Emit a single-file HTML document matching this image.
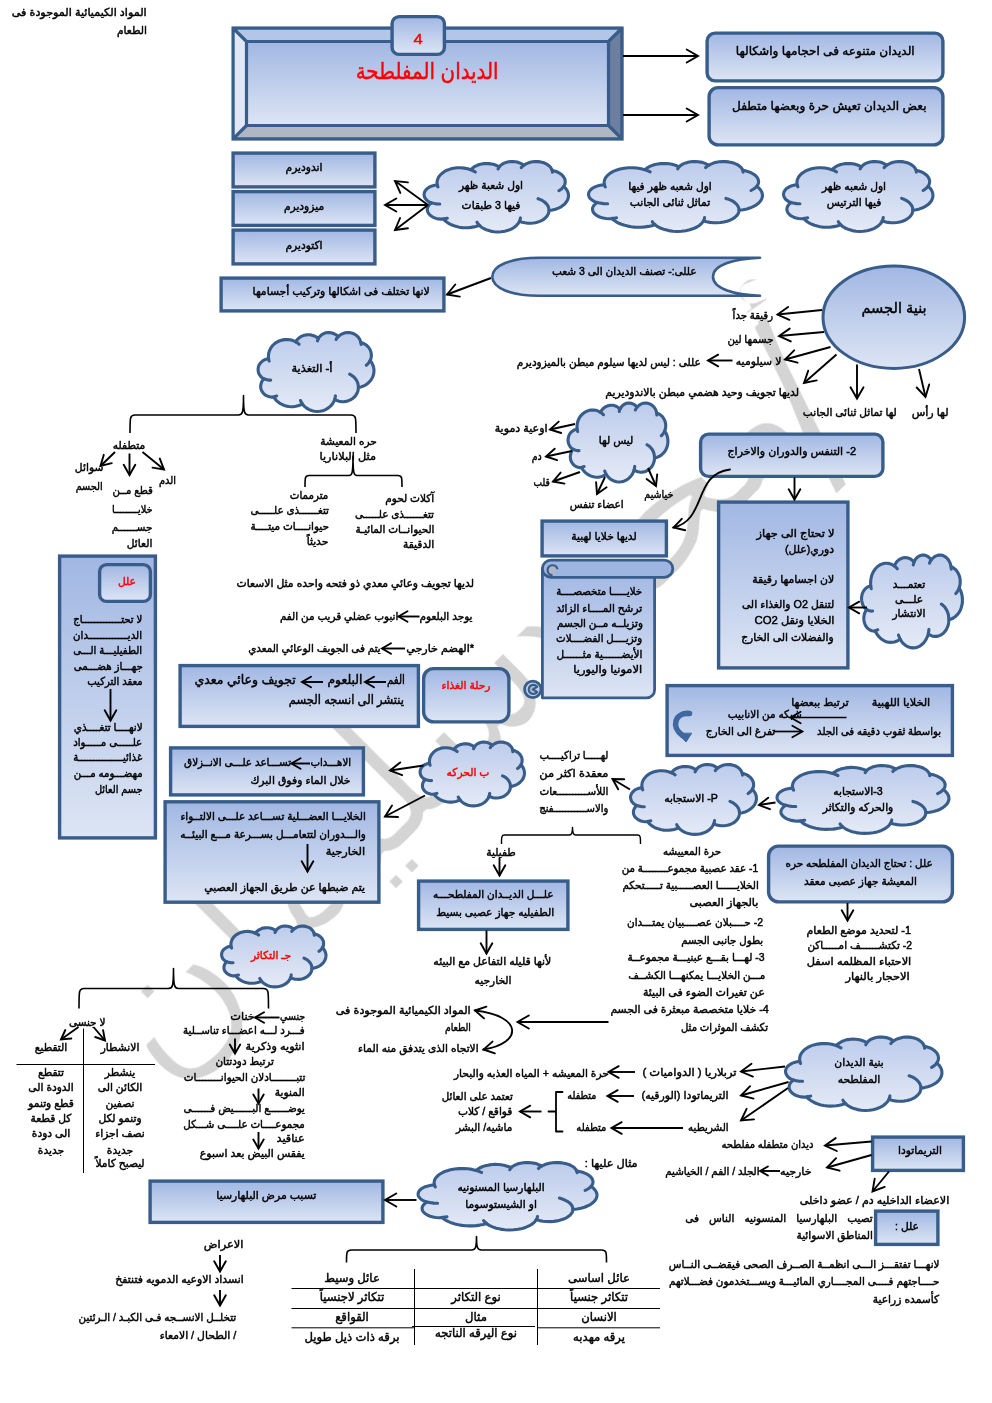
<!DOCTYPE html>
<html lang="ar"><head><meta charset="utf-8"><title>الديدان المفلطحة</title>
<style>
html,body{margin:0;padding:0;background:#fff}
#pg{will-change:transform;position:relative;width:992px;height:1403px;overflow:hidden;background:#fff;font-family:"Liberation Sans","DejaVu Sans",sans-serif;font-weight:normal;color:#000;-webkit-text-stroke:0.45px currentColor}
#pg svg{position:absolute;left:0;top:0}
.t{position:absolute;white-space:nowrap;direction:rtl;unicode-bidi:isolate}
.wm{position:absolute;white-space:nowrap;direction:rtl;color:#d2d2d2;font-weight:normal;transform-origin:0 0}
</style></head><body>
<div id="pg">
<svg width="992" height="1403" viewBox="0 0 992 1403"><defs><filter id="er175" x="-10%" y="-10%" width="120%" height="120%"><feMorphology operator="erode" radius="1.75"/></filter><filter id="er150" x="-10%" y="-10%" width="120%" height="120%"><feMorphology operator="erode" radius="1.5"/></filter><filter id="er300" x="-10%" y="-10%" width="120%" height="120%"><feMorphology operator="erode" radius="3.0"/></filter><filter id="er200" x="-10%" y="-10%" width="120%" height="120%"><feMorphology operator="erode" radius="2.0"/></filter></defs><text x="0" y="0" transform="translate(161.5,1087.5) rotate(-45)" text-anchor="end" direction="rtl" filter="url(#er175)" font-family="'DejaVu Sans',sans-serif" font-weight="normal" font-size="183" fill="#d4d4d4">سليمان</text><text x="0" y="0" transform="translate(545,704) rotate(-45)" text-anchor="end" direction="rtl" filter="url(#er150)" font-family="'DejaVu Sans',sans-serif" font-weight="normal" font-size="165" fill="#d4d4d4">محمد</text><text x="0" y="0" transform="translate(811,440) rotate(-22)" text-anchor="middle" direction="rtl" filter="url(#er300)" font-family="'DejaVu Sans',sans-serif" font-weight="normal" font-size="175" fill="#d4d4d4">أ</text><text x="0" y="0" transform="translate(848.5,457) rotate(-43.4)" text-anchor="middle" direction="rtl" filter="url(#er200)" font-family="'DejaVu Sans',sans-serif" font-weight="normal" font-size="220" fill="#d4d4d4">/</text></svg>
<svg width="992" height="1403" viewBox="0 0 992 1403"><defs><linearGradient id="g1" x1="0" y1="0" x2="0" y2="1"><stop offset="0" stop-color="#a1b7e3"/><stop offset="1" stop-color="#dde5f4"/></linearGradient><linearGradient id="g2" x1="0" y1="0" x2="0" y2="1"><stop offset="0" stop-color="#bdccec"/><stop offset="1" stop-color="#e4eaf6"/></linearGradient></defs>
<polygon points="231.5,26.5 623.5,26.5 608.5,41.5 246.5,41.5" fill="#b3c6e8"/>
<polygon points="231.5,26.5 246.5,41.5 246.5,125.5 231.5,140.5" fill="#e1e7f5"/>
<polygon points="623.5,26.5 623.5,140.5 608.5,125.5 608.5,41.5" fill="#6d7e9f"/>
<polygon points="231.5,140.5 246.5,125.5 608.5,125.5 623.5,140.5" fill="#b1b6c3"/>
<rect x="246.5" y="41.5" width="362" height="84" fill="url(#g1)"/>
<path d="M233.1 28.1H621.9V138.9H233.1Z M246.5 41.5H608.5V125.5H246.5Z M233.1 28.1L246.5 41.5 M621.9 28.1L608.5 41.5 M233.1 138.9L246.5 125.5 M621.9 138.9L608.5 125.5" fill="none" stroke="#385d8a" stroke-width="3.2" stroke-linejoin="miter"/>
<rect x="392.1" y="16.6" width="52.3" height="37.8" rx="7" fill="url(#g1)" stroke="#385d8a" stroke-width="3.4"/>
<rect x="707.1" y="33.1" width="235.8" height="47.8" rx="8" fill="url(#g1)" stroke="#385d8a" stroke-width="3.4"/>
<rect x="709.1" y="87.6" width="233.8" height="57.3" rx="9" fill="url(#g1)" stroke="#385d8a" stroke-width="3.4"/>
<rect x="233.1" y="153.1" width="141.8" height="33.8" rx="0" fill="url(#g1)" stroke="#385d8a" stroke-width="3.4"/>
<rect x="233.1" y="191.6" width="141.8" height="33.8" rx="0" fill="url(#g1)" stroke="#385d8a" stroke-width="3.4"/>
<rect x="233.1" y="230.1" width="141.8" height="33.8" rx="0" fill="url(#g1)" stroke="#385d8a" stroke-width="3.4"/>
<path d="M437.2 184.7L437 182.3L437.4 180L438.3 177.7L439.8 175.5L441.8 173.5L444.2 171.7L447 170.2L450.2 169.1L453.5 168.3L457.1 167.8L460.7 167.7L464.2 168.1L467.7 168.7L470.9 169.8L472.2 168.4L473.7 167.2L475.4 166.2L477.3 165.3L479.4 164.5L481.6 164L484 163.6L486.3 163.5L488.7 163.6L491 163.9L493.2 164.3L495.4 165L497.4 165.9L499.2 166.9L500.2 165.7L501.6 164.6L503.1 163.7L504.8 162.9L506.7 162.2L508.7 161.8L510.8 161.6L512.9 161.6L515 161.7L517.1 162.1L519 162.7L520.8 163.4L522.4 164.3L523.8 165.4L525.6 164.1L527.8 163.1L530.1 162.3L532.6 161.8L535.2 161.6L537.8 161.6L540.4 161.9L542.8 162.5L545.1 163.3L547.2 164.4L548.9 165.7L550.4 167.1L551.4 168.7L552.1 170.4L554.2 170.9L556.1 171.5L558 172.3L559.6 173.2L561.1 174.2L562.4 175.4L563.5 176.7L564.3 178L564.9 179.4L565.2 180.8L565.2 182.3L565 183.7L564.5 185.1L563.8 186.5L565.7 188.4L567.1 190.4L568 192.5L568.5 194.8L568.4 197L567.9 199.2L566.8 201.3L565.3 203.3L563.4 205.1L561.1 206.8L558.4 208.1L555.5 209.2L552.4 210L549.1 210.5L548.8 212.5L548.1 214.3L547 216.1L545.5 217.8L543.7 219.3L541.5 220.6L539.1 221.6L536.4 222.5L533.6 223L530.7 223.2L527.8 223.2L524.9 222.8L522.1 222.2L519.5 221.3L518.2 223.5L516.3 225.6L514 227.5L511.3 229.1L508.2 230.3L504.8 231.2L501.3 231.8L497.6 232L494 231.7L490.5 231.1L487.2 230.1L484.1 228.8L481.5 227.2L479.2 225.3L476.6 226.2L473.9 226.9L471 227.4L468.1 227.7L465.2 227.7L462.3 227.6L459.4 227.2L456.6 226.6L454 225.8L451.4 224.8L449.1 223.6L447 222.2L445.1 220.7L443.5 219.1L441 219.1L438.5 218.9L436.1 218.4L433.9 217.6L431.9 216.5L430.2 215.3L428.9 213.9L427.9 212.3L427.4 210.7L427.3 209L427.7 207.3L428.5 205.7L429.7 204.3L431.2 202.9L429.1 201.9L427.3 200.7L425.8 199.2L424.8 197.7L424.2 196L424.1 194.2L424.4 192.5L425.1 190.9L426.4 189.3L427.9 188L429.9 186.8L432.1 185.9L434.5 185.3L437.1 184.9Z" fill="url(#g2)" stroke="#385d8a" stroke-width="3.1" stroke-linejoin="round"/><path d="M439.8 204L438.7 204L437.6 204L436.5 203.9L435.5 203.7L434.4 203.5L433.4 203.3L432.3 203L431.4 202.7M447.3 218.2L446.8 218.3L446.4 218.4L445.9 218.5L445.5 218.6L445 218.6L444.5 218.7L444.1 218.7L443.6 218.8M479.2 225L478.9 224.7L478.5 224.3L478.2 224L478 223.6L477.7 223.3L477.4 222.9L477.2 222.5L477 222.2M520.4 217.9L520.4 218.3L520.3 218.7L520.2 219.1L520.1 219.5L520 219.9L519.8 220.3L519.7 220.7L519.5 221M538.1 198.7L540.5 199.6L542.6 200.7L544.5 202L546.1 203.5L547.4 205.1L548.3 206.8L548.8 208.5L549 210.3M563.7 186.3L563.3 186.9L562.8 187.5L562.3 188.1L561.7 188.7L561.1 189.2L560.4 189.7L559.7 190.2L558.9 190.7M552.1 170.1L552.2 170.4L552.3 170.7L552.3 170.9L552.3 171.2L552.4 171.4L552.4 171.7L552.4 171.9L552.4 172.2M521.3 167.7L521.5 167.4L521.8 167L522.1 166.7L522.4 166.4L522.7 166L523 165.7L523.4 165.4L523.7 165.1M498.1 169L498.2 168.7L498.3 168.4L498.4 168.1L498.6 167.8L498.7 167.6L498.9 167.3L499.1 167L499.3 166.7M470.9 169.8L471.5 170L472.1 170.3L472.6 170.5L473.2 170.8L473.7 171.1L474.2 171.4L474.8 171.7L475.3 172M437.9 187L437.8 186.7L437.7 186.5L437.6 186.2L437.5 185.9L437.4 185.6L437.3 185.3L437.2 185L437.2 184.7" fill="none" stroke="#385d8a" stroke-width="3.1" stroke-linecap="round" stroke-linejoin="round"/>
<path d="M604.4 184.6L604.1 182.2L604.6 179.8L605.7 177.5L607.5 175.4L609.9 173.4L612.8 171.7L616.2 170.2L620 169L624.1 168.2L628.3 167.8L632.7 167.7L637 168L641.1 168.7L645 169.7L646.5 168.4L648.3 167.2L650.4 166.1L652.7 165.2L655.2 164.5L657.9 164L660.7 163.6L663.5 163.5L666.4 163.6L669.2 163.8L671.9 164.3L674.5 165L676.8 165.8L679 166.9L680.3 165.7L681.9 164.6L683.7 163.6L685.8 162.9L688.1 162.2L690.5 161.8L693 161.6L695.6 161.6L698.1 161.7L700.6 162.1L702.9 162.6L705 163.4L707 164.3L708.7 165.3L710.9 164.1L713.4 163.1L716.3 162.3L719.3 161.8L722.4 161.6L725.5 161.6L728.6 161.9L731.6 162.5L734.4 163.3L736.8 164.4L739 165.7L740.7 167.1L742 168.7L742.8 170.3L745.3 170.8L747.6 171.4L749.8 172.2L751.8 173.1L753.6 174.2L755.2 175.3L756.5 176.6L757.5 177.9L758.1 179.3L758.5 180.7L758.6 182.1L758.3 183.6L757.7 185L756.9 186.3L759.1 188.2L760.8 190.2L761.9 192.3L762.4 194.5L762.4 196.7L761.7 198.9L760.5 201L758.7 203L756.4 204.8L753.6 206.4L750.4 207.8L746.9 208.9L743.1 209.7L739.1 210.2L738.8 212.1L738 214L736.7 215.7L734.9 217.4L732.6 218.9L730 220.2L727 221.2L723.8 222L720.5 222.5L717 222.8L713.4 222.7L710 222.4L706.6 221.8L703.5 220.9L701.9 223.1L699.7 225.2L696.9 227L693.6 228.6L689.8 229.8L685.8 230.7L681.5 231.3L677.2 231.5L672.8 231.2L668.6 230.6L664.6 229.6L660.9 228.3L657.7 226.7L655 224.8L651.8 225.7L648.6 226.4L645.1 226.9L641.6 227.2L638.1 227.3L634.6 227.1L631.1 226.7L627.8 226.1L624.6 225.3L621.5 224.3L618.7 223.2L616.2 221.8L614 220.3L612 218.7L609 218.7L606 218.5L603.1 218L600.4 217.2L598 216.2L595.9 214.9L594.3 213.5L593.2 212L592.6 210.3L592.5 208.7L592.9 207L593.9 205.4L595.3 204L597.2 202.6L594.6 201.6L592.5 200.4L590.7 199L589.4 197.4L588.7 195.7L588.5 194L588.9 192.3L589.9 190.7L591.3 189.1L593.2 187.8L595.6 186.6L598.2 185.7L601.2 185.1L604.2 184.8Z" fill="url(#g2)" stroke="#385d8a" stroke-width="3.1" stroke-linejoin="round"/><path d="M607.6 203.7L606.2 203.7L604.9 203.7L603.6 203.6L602.3 203.4L601 203.3L599.8 203L598.5 202.7L597.4 202.4M616.5 217.8L616 217.9L615.5 218L614.9 218.1L614.4 218.2L613.8 218.2L613.2 218.3L612.7 218.3L612.1 218.4M655 224.5L654.6 224.2L654.2 223.9L653.8 223.5L653.5 223.2L653.1 222.8L652.8 222.5L652.5 222.1L652.3 221.7M704.6 217.5L704.5 217.9L704.5 218.3L704.4 218.7L704.2 219.1L704.1 219.5L703.9 219.9L703.7 220.2L703.5 220.6M725.9 198.4L728.8 199.3L731.3 200.4L733.6 201.7L735.5 203.2L737 204.8L738.1 206.4L738.8 208.2L739 210M756.8 186.1L756.3 186.8L755.7 187.4L755 187.9L754.3 188.5L753.6 189L752.7 189.5L751.9 190L751 190.5M742.8 170.1L742.9 170.3L743 170.6L743 170.9L743.1 171.1L743.1 171.4L743.1 171.6L743.1 171.9L743.1 172.1M705.6 167.7L705.9 167.4L706.2 167L706.6 166.7L706.9 166.3L707.3 166L707.7 165.7L708.2 165.4L708.6 165.1M677.7 168.9L677.8 168.7L678 168.4L678.1 168.1L678.3 167.8L678.5 167.5L678.7 167.2L678.9 167L679.2 166.7M645 169.7L645.7 169.9L646.4 170.2L647.1 170.4L647.7 170.7L648.4 171L649 171.3L649.6 171.6L650.2 171.9M605.3 186.9L605.1 186.6L605 186.3L604.9 186L604.7 185.7L604.6 185.4L604.5 185.1L604.4 184.8L604.4 184.6" fill="none" stroke="#385d8a" stroke-width="3.1" stroke-linecap="round" stroke-linejoin="round"/>
<path d="M797.1 184.6L796.9 182.2L797.3 179.8L798.3 177.5L799.8 175.4L801.9 173.4L804.4 171.7L807.3 170.2L810.6 169L814.1 168.2L817.7 167.8L821.4 167.7L825.1 168L828.7 168.7L832.1 169.7L833.3 168.4L834.9 167.2L836.7 166.1L838.7 165.2L840.8 164.5L843.1 164L845.5 163.6L848 163.5L850.4 163.6L852.8 163.8L855.1 164.3L857.3 165L859.4 165.8L861.3 166.9L862.4 165.7L863.7 164.6L865.3 163.6L867.1 162.9L869.1 162.2L871.2 161.8L873.3 161.6L875.5 161.6L877.7 161.7L879.8 162.1L881.8 162.6L883.6 163.4L885.3 164.3L886.7 165.3L888.6 164.1L890.8 163.1L893.3 162.3L895.8 161.8L898.5 161.6L901.2 161.6L903.9 161.9L906.4 162.5L908.8 163.3L910.9 164.4L912.8 165.7L914.3 167.1L915.4 168.7L916.1 170.3L918.2 170.8L920.2 171.4L922.1 172.2L923.8 173.1L925.4 174.2L926.7 175.3L927.8 176.6L928.7 177.9L929.3 179.3L929.6 180.7L929.6 182.1L929.4 183.6L928.9 185L928.1 186.3L930.1 188.2L931.5 190.2L932.5 192.3L932.9 194.5L932.9 196.7L932.3 198.9L931.3 201L929.7 203L927.7 204.8L925.3 206.4L922.6 207.8L919.5 208.9L916.3 209.7L912.9 210.2L912.6 212.1L911.9 214L910.8 215.7L909.2 217.4L907.3 218.9L905.1 220.2L902.5 221.2L899.8 222L896.9 222.5L893.9 222.8L890.8 222.7L887.9 222.4L885 221.8L882.3 220.9L881 223.1L879 225.2L876.6 227L873.8 228.6L870.6 229.8L867.1 230.7L863.4 231.3L859.7 231.5L855.9 231.2L852.3 230.6L848.9 229.6L845.7 228.3L842.9 226.7L840.6 224.8L837.9 225.7L835.1 226.4L832.2 226.9L829.2 227.2L826.1 227.3L823.1 227.1L820.1 226.7L817.3 226.1L814.5 225.3L811.9 224.3L809.5 223.2L807.3 221.8L805.4 220.3L803.7 218.7L801.1 218.7L798.5 218.5L796 218L793.7 217.2L791.6 216.2L789.9 214.9L788.5 213.5L787.5 212L787 210.3L786.9 208.7L787.3 207L788.1 205.4L789.3 204L791 202.6L788.8 201.6L786.9 200.4L785.4 199L784.3 197.4L783.7 195.7L783.5 194L783.9 192.3L784.7 190.7L785.9 189.1L787.6 187.8L789.6 186.6L791.9 185.7L794.4 185.1L797 184.8Z" fill="url(#g2)" stroke="#385d8a" stroke-width="3.1" stroke-linejoin="round"/><path d="M799.9 203.7L798.7 203.7L797.6 203.7L796.5 203.6L795.3 203.4L794.2 203.3L793.2 203L792.1 202.7L791.1 202.4M807.6 217.8L807.1 217.9L806.7 218L806.2 218.1L805.7 218.2L805.2 218.2L804.8 218.3L804.3 218.3L803.8 218.4M840.6 224.5L840.3 224.2L839.9 223.9L839.6 223.5L839.3 223.2L839 222.8L838.8 222.5L838.5 222.1L838.3 221.7M883.3 217.5L883.2 217.9L883.1 218.3L883 218.7L882.9 219.1L882.8 219.5L882.7 219.9L882.5 220.2L882.3 220.6M901.6 198.4L904 199.3L906.2 200.4L908.2 201.7L909.8 203.2L911.1 204.8L912.1 206.4L912.6 208.2L912.8 210M928.1 186.1L927.6 186.8L927.1 187.4L926.6 187.9L926 188.5L925.3 189L924.6 189.5L923.9 190L923.1 190.5M916.1 170.1L916.1 170.3L916.2 170.6L916.2 170.9L916.3 171.1L916.3 171.4L916.3 171.6L916.3 171.9L916.3 172.1M884.1 167.7L884.4 167.4L884.7 167L885 166.7L885.3 166.3L885.6 166L885.9 165.7L886.3 165.4L886.7 165.1M860.2 168.9L860.3 168.7L860.4 168.4L860.5 168.1L860.7 167.8L860.8 167.5L861 167.2L861.2 167L861.4 166.7M832 169.7L832.6 169.9L833.2 170.2L833.8 170.4L834.4 170.7L834.9 171L835.5 171.3L836 171.6L836.5 171.9M797.9 186.9L797.8 186.6L797.7 186.3L797.6 186L797.5 185.7L797.4 185.4L797.3 185.1L797.2 184.8L797.1 184.6" fill="none" stroke="#385d8a" stroke-width="3.1" stroke-linecap="round" stroke-linejoin="round"/>
<path d="M539 257.8H760C735 258.8 713 264.5 713 276.8C713 289 735 294.7 760 295.7H539C511 295.7 492.3 288 492.3 276.8C492.3 265.5 511 257.8 539 257.8Z" fill="url(#g1)" stroke="#385d8a" stroke-width="2.6" stroke-linejoin="round"/>
<rect x="221.1" y="278.1" width="222.8" height="32.8" rx="0" fill="url(#g1)" stroke="#385d8a" stroke-width="3.4"/>
<ellipse cx="893.8" cy="317.2" rx="70.8" ry="51.2" fill="url(#g1)" stroke="#385d8a" stroke-width="3"/>
<path d="M268.6 358.5L268.4 355.8L268.7 353.2L269.5 350.6L270.7 348.2L272.3 345.9L274.2 344L276.5 342.3L279 341L281.7 340.1L284.6 339.6L287.4 339.5L290.3 339.8L293.1 340.6L295.7 341.8L296.7 340.3L297.9 338.9L299.3 337.7L300.8 336.7L302.5 335.9L304.3 335.3L306.1 334.9L308 334.7L309.9 334.8L311.8 335.1L313.6 335.7L315.3 336.4L316.9 337.4L318.3 338.5L319.2 337.2L320.3 336L321.5 334.9L322.9 334L324.4 333.3L326 332.8L327.7 332.6L329.4 332.6L331.1 332.7L332.7 333.2L334.2 333.8L335.7 334.6L337 335.6L338.1 336.8L339.6 335.4L341.3 334.3L343.2 333.4L345.2 332.8L347.2 332.6L349.3 332.6L351.4 333L353.4 333.6L355.2 334.6L356.9 335.8L358.3 337.2L359.4 338.8L360.3 340.6L360.8 342.5L362.5 343L364.1 343.7L365.5 344.6L366.9 345.6L368.1 346.8L369.1 348.1L370 349.5L370.6 351L371.1 352.6L371.3 354.2L371.4 355.8L371.2 357.4L370.8 359L370.2 360.5L371.7 362.6L372.8 364.9L373.6 367.3L374 369.8L373.9 372.3L373.5 374.7L372.6 377.1L371.4 379.4L369.9 381.4L368 383.2L365.9 384.8L363.6 386L361 386.9L358.4 387.4L358.2 389.6L357.7 391.7L356.8 393.7L355.6 395.6L354.1 397.3L352.3 398.7L350.4 399.9L348.2 400.8L346 401.4L343.6 401.7L341.3 401.6L339 401.2L336.8 400.5L334.7 399.5L333.6 402L332.1 404.4L330.2 406.4L328 408.2L325.6 409.6L322.9 410.7L320 411.3L317.1 411.5L314.2 411.2L311.4 410.5L308.7 409.4L306.3 407.9L304.1 406.1L302.3 404L300.2 405L298 405.8L295.8 406.3L293.4 406.7L291.1 406.7L288.7 406.5L286.4 406.1L284.2 405.4L282.1 404.5L280 403.4L278.2 402.1L276.5 400.6L275 398.9L273.7 397L271.7 397.1L269.7 396.8L267.7 396.2L265.9 395.4L264.3 394.2L263 392.8L261.9 391.2L261.1 389.4L260.7 387.6L260.7 385.7L261 383.9L261.6 382.1L262.5 380.4L263.8 378.9L262.1 377.8L260.7 376.4L259.5 374.8L258.6 373L258.2 371.1L258.1 369.2L258.3 367.3L258.9 365.4L259.9 363.7L261.2 362.2L262.7 360.9L264.5 359.8L266.4 359.1L268.5 358.8Z" fill="url(#g2)" stroke="#385d8a" stroke-width="3.1" stroke-linejoin="round"/><path d="M270.7 380.1L269.8 380.1L269 380.1L268.1 380L267.2 379.8L266.3 379.6L265.5 379.3L264.7 379L263.9 378.6M276.7 396L276.3 396.1L276 396.2L275.6 396.4L275.2 396.4L274.9 396.5L274.5 396.6L274.1 396.7L273.7 396.7M302.3 403.7L302 403.3L301.8 402.9L301.5 402.5L301.3 402.1L301.1 401.7L300.9 401.3L300.7 400.9L300.5 400.5M335.4 395.7L335.4 396.2L335.3 396.6L335.2 397.1L335.1 397.5L335 397.9L334.9 398.4L334.8 398.8L334.7 399.2M349.6 374.2L351.5 375.2L353.2 376.4L354.7 377.9L356 379.5L357 381.3L357.8 383.2L358.2 385.2L358.3 387.2M370.2 360.3L369.8 361L369.4 361.7L369 362.3L368.5 363L368 363.6L367.5 364.1L366.9 364.7L366.3 365.2M360.9 342.2L360.9 342.5L361 342.8L361 343L361 343.3L361 343.6L361.1 343.9L361.1 344.2L361.1 344.5M336.1 339.5L336.3 339.1L336.5 338.7L336.7 338.3L337 338L337.2 337.6L337.5 337.2L337.8 336.9L338.1 336.6M317.5 340.9L317.6 340.6L317.7 340.2L317.8 339.9L317.9 339.6L318 339.3L318.1 339L318.3 338.7L318.4 338.4M295.7 341.8L296.1 342L296.6 342.3L297 342.6L297.5 342.9L297.9 343.2L298.3 343.5L298.7 343.9L299.1 344.2M269.2 361.1L269.1 360.8L269 360.5L268.9 360.1L268.8 359.8L268.8 359.5L268.7 359.2L268.6 358.8L268.6 358.5" fill="none" stroke="#385d8a" stroke-width="3.1" stroke-linecap="round" stroke-linejoin="round"/>
<rect x="59.6" y="556.1" width="95.8" height="281.8" rx="0" fill="url(#g1)" stroke="#385d8a" stroke-width="3.4"/>
<rect x="99.6" y="564.6" width="50.8" height="36.8" rx="7" fill="url(#g1)" stroke="#385d8a" stroke-width="3.4"/>
<rect x="180.1" y="665.6" width="238.3" height="60.8" rx="0" fill="url(#g1)" stroke="#385d8a" stroke-width="3.4"/>
<rect x="423.6" y="668.6" width="85.3" height="53.3" rx="10" fill="url(#g1)" stroke="#385d8a" stroke-width="3.4"/>
<path d="M577.1 429L577 426.3L577.3 423.7L577.9 421.1L578.9 418.7L580.3 416.4L582 414.5L583.9 412.8L586.1 411.5L588.5 410.6L590.9 410.1L593.4 410L595.9 410.3L598.2 411.1L600.5 412.3L601.3 410.8L602.4 409.4L603.6 408.2L604.9 407.2L606.4 406.4L607.9 405.8L609.5 405.4L611.1 405.2L612.8 405.3L614.4 405.6L615.9 406.2L617.4 406.9L618.8 407.9L620 409L620.8 407.7L621.7 406.5L622.7 405.4L623.9 404.5L625.3 403.8L626.6 403.3L628.1 403.1L629.5 403.1L631 403.2L632.4 403.7L633.7 404.3L635 405.1L636.1 406.1L637 407.3L638.3 405.9L639.8 404.8L641.4 403.9L643.1 403.3L644.9 403.1L646.7 403.1L648.5 403.5L650.2 404.1L651.8 405.1L653.2 406.3L654.5 407.7L655.5 409.3L656.2 411.1L656.7 413L658.1 413.5L659.4 414.2L660.7 415.1L661.9 416.1L662.9 417.3L663.8 418.6L664.5 420L665.1 421.5L665.5 423.1L665.7 424.7L665.7 426.3L665.6 427.9L665.2 429.5L664.7 431L666 433.1L667 435.4L667.6 437.8L667.9 440.3L667.9 442.8L667.5 445.2L666.8 447.6L665.8 449.9L664.5 451.9L662.8 453.7L661 455.3L659 456.5L656.8 457.4L654.5 457.9L654.4 460.1L653.9 462.2L653.1 464.2L652.1 466.1L650.8 467.8L649.3 469.2L647.6 470.4L645.8 471.3L643.8 471.9L641.8 472.2L639.8 472.1L637.8 471.7L635.9 471L634.1 470L633.2 472.5L631.9 474.9L630.3 476.9L628.4 478.7L626.2 480.1L623.9 481.2L621.5 481.8L619 482L616.5 481.7L614 481L611.7 479.9L609.6 478.4L607.8 476.6L606.2 474.5L604.4 475.5L602.5 476.3L600.6 476.8L598.6 477.2L596.5 477.2L594.5 477L592.5 476.6L590.6 475.9L588.7 475L587 473.9L585.4 472.6L583.9 471.1L582.6 469.4L581.5 467.5L579.8 467.6L578.1 467.3L576.4 466.7L574.8 465.9L573.5 464.7L572.3 463.3L571.4 461.7L570.7 459.9L570.4 458.1L570.3 456.2L570.6 454.4L571.1 452.6L571.9 450.9L573 449.4L571.5 448.3L570.3 446.9L569.3 445.3L568.6 443.5L568.1 441.6L568 439.7L568.3 437.8L568.8 435.9L569.6 434.2L570.7 432.7L572.1 431.4L573.6 430.3L575.3 429.6L577.1 429.3Z" fill="url(#g2)" stroke="#385d8a" stroke-width="3.1" stroke-linejoin="round"/><path d="M579 450.6L578.2 450.6L577.4 450.6L576.7 450.5L575.9 450.3L575.2 450.1L574.5 449.8L573.8 449.5L573.1 449.1M584.1 466.5L583.8 466.6L583.5 466.7L583.2 466.9L582.9 466.9L582.6 467L582.2 467.1L581.9 467.2L581.6 467.2M606.2 474.2L606 473.8L605.8 473.4L605.5 473L605.3 472.6L605.2 472.2L605 471.8L604.8 471.4L604.7 471M634.7 466.2L634.7 466.7L634.6 467.1L634.6 467.6L634.5 468L634.4 468.4L634.3 468.9L634.2 469.3L634.1 469.7M647 444.7L648.6 445.7L650.1 446.9L651.4 448.4L652.5 450L653.4 451.8L654 453.7L654.4 455.7L654.5 457.7M664.7 430.8L664.4 431.5L664.1 432.2L663.7 432.8L663.3 433.5L662.8 434.1L662.4 434.6L661.9 435.2L661.3 435.7M656.7 412.7L656.7 413L656.7 413.3L656.8 413.5L656.8 413.8L656.8 414.1L656.8 414.4L656.8 414.7L656.8 415M635.3 410L635.5 409.6L635.7 409.2L635.9 408.8L636.1 408.5L636.3 408.1L636.5 407.7L636.8 407.4L637 407.1M619.3 411.4L619.3 411.1L619.4 410.7L619.5 410.4L619.6 410.1L619.7 409.8L619.8 409.5L620 409.2L620.1 408.9M600.5 412.3L600.9 412.5L601.3 412.8L601.7 413.1L602 413.4L602.4 413.7L602.8 414L603.1 414.4L603.5 414.7M577.7 431.6L577.6 431.3L577.5 431L577.4 430.6L577.4 430.3L577.3 430L577.2 429.7L577.2 429.3L577.1 429" fill="none" stroke="#385d8a" stroke-width="3.1" stroke-linecap="round" stroke-linejoin="round"/>
<rect x="700.6" y="434.1" width="182.3" height="42.3" rx="8" fill="url(#g1)" stroke="#385d8a" stroke-width="3.4"/>
<rect x="718.6" y="502.1" width="129.3" height="165.8" rx="0" fill="url(#g1)" stroke="#385d8a" stroke-width="3.4"/>
<path d="M870.7 585.6L870.6 582.5L870.9 579.3L871.5 576.3L872.5 573.4L873.9 570.8L875.6 568.5L877.6 566.5L879.8 565L882.2 563.9L884.6 563.3L887.1 563.2L889.6 563.6L892 564.5L894.3 565.9L895.2 564.2L896.2 562.5L897.4 561.1L898.8 559.9L900.2 559L901.8 558.3L903.4 557.8L905.1 557.6L906.7 557.7L908.3 558.1L909.9 558.7L911.4 559.6L912.8 560.8L914 562.1L914.8 560.5L915.7 559.1L916.8 557.8L918 556.8L919.3 556L920.7 555.4L922.2 555.1L923.7 555L925.1 555.3L926.5 555.8L927.9 556.5L929.1 557.5L930.3 558.7L931.2 560.1L932.5 558.4L934 557.1L935.6 556.1L937.4 555.4L939.2 555.1L941 555.1L942.8 555.5L944.5 556.3L946.1 557.4L947.6 558.8L948.8 560.5L949.8 562.4L950.6 564.5L951 566.7L952.5 567.3L953.8 568.2L955.1 569.2L956.3 570.4L957.3 571.8L958.2 573.3L959 575L959.6 576.8L960 578.6L960.2 580.5L960.2 582.4L960.1 584.3L959.7 586.2L959.2 588L960.5 590.4L961.5 593.1L962.1 595.9L962.4 598.9L962.4 601.8L962 604.7L961.3 607.5L960.3 610.2L958.9 612.6L957.3 614.7L955.4 616.5L953.4 618L951.2 619L948.9 619.7L948.7 622.2L948.3 624.7L947.5 627.1L946.4 629.3L945.1 631.3L943.6 633L941.9 634.4L940 635.4L938.1 636.1L936.1 636.4L934 636.4L932 635.9L930.1 635.1L928.3 633.9L927.3 636.9L926 639.6L924.4 642L922.5 644.1L920.3 645.8L918 647L915.5 647.7L913 647.9L910.4 647.6L908 646.8L905.7 645.5L903.5 643.8L901.7 641.7L900.1 639.2L898.3 640.3L896.4 641.3L894.4 641.9L892.4 642.3L890.3 642.4L888.3 642.2L886.3 641.7L884.3 640.9L882.5 639.8L880.7 638.5L879.1 636.9L877.6 635.1L876.3 633.2L875.2 631L873.4 631.1L871.7 630.7L870 630L868.4 629L867 627.6L865.8 626L864.9 624.1L864.2 622L863.9 619.9L863.8 617.7L864.1 615.5L864.6 613.4L865.5 611.4L866.6 609.7L865.1 608.3L863.8 606.7L862.8 604.8L862.1 602.7L861.7 600.5L861.5 598.2L861.8 595.9L862.3 593.7L863.2 591.7L864.3 589.9L865.6 588.4L867.2 587.2L868.9 586.4L870.6 585.9Z" fill="url(#g2)" stroke="#385d8a" stroke-width="3.1" stroke-linejoin="round"/><path d="M872.6 611L871.8 611.1L871 611L870.3 610.9L869.5 610.7L868.8 610.5L868 610.1L867.3 609.8L866.7 609.3M877.8 629.8L877.5 629.9L877.2 630L876.8 630.2L876.5 630.3L876.2 630.4L875.9 630.5L875.5 630.5L875.2 630.6M900.1 638.8L899.8 638.3L899.6 637.9L899.4 637.4L899.2 637L899 636.5L898.8 636L898.7 635.5L898.5 635M928.9 629.4L928.9 630L928.8 630.5L928.7 631L928.7 631.5L928.6 632L928.5 632.5L928.4 633L928.3 633.6M941.3 604.1L942.9 605.3L944.4 606.7L945.7 608.5L946.8 610.4L947.7 612.5L948.4 614.7L948.7 617.1L948.9 619.4M959.2 587.7L958.9 588.6L958.5 589.4L958.1 590.1L957.7 590.9L957.3 591.6L956.8 592.3L956.3 592.9L955.8 593.5M951.1 566.4L951.1 566.7L951.1 567.1L951.2 567.4L951.2 567.8L951.2 568.1L951.2 568.4L951.2 568.8L951.2 569.1M929.5 563.2L929.6 562.8L929.8 562.3L930 561.9L930.2 561.4L930.5 561L930.7 560.6L930.9 560.2L931.2 559.8M913.3 564.9L913.4 564.5L913.4 564.1L913.5 563.7L913.6 563.4L913.7 563L913.9 562.6L914 562.2L914.1 561.9M894.3 565.9L894.7 566.2L895.1 566.5L895.5 566.9L895.9 567.2L896.3 567.6L896.6 568L897 568.4L897.3 568.8M871.3 588.7L871.2 588.3L871.1 587.9L871 587.5L870.9 587.2L870.9 586.8L870.8 586.4L870.8 586L870.7 585.6" fill="none" stroke="#385d8a" stroke-width="3.1" stroke-linecap="round" stroke-linejoin="round"/>
<rect x="542.1" y="521.1" width="124.3" height="34.8" rx="0" fill="url(#g1)" stroke="#385d8a" stroke-width="3.4"/>
<circle cx="532.8" cy="689.4" r="8.2" fill="#c3d0ec" stroke="#385d8a" stroke-width="2.8"/>
<path d="M537.2 686.9A4.6 4.6 0 1 0 537.2 691.9L532.8 689.4Z" fill="#aeb6c8" stroke="#385d8a" stroke-width="2.2" stroke-linejoin="round"/>
<path d="M542.4 568.7V697.9H646.6A8 8 0 0 0 654.6 689.9V568.7Z" fill="url(#g1)" stroke="#385d8a" stroke-width="2.8" stroke-linejoin="round"/>
<rect x="542.4" y="560.1" width="130.4" height="17.2" rx="8.6" fill="#9fb5e1" stroke="#385d8a" stroke-width="2.8"/>
<path d="M557.5 569.2A5 5 0 1 0 552 575.2H552.5" fill="#aeb6c8" stroke="#385d8a" stroke-width="2.2" stroke-linejoin="round"/>
<rect x="667.1" y="685.6" width="285.3" height="69.8" rx="0" fill="url(#g1)" stroke="#385d8a" stroke-width="3.4"/>
<path d="M429.5 763.1L429.4 760.9L429.7 758.8L430.4 756.7L431.4 754.7L432.9 752.9L434.6 751.3L436.7 749.9L438.9 748.9L441.4 748.1L443.9 747.7L446.5 747.7L449.1 748L451.6 748.6L453.9 749.5L454.8 748.3L455.9 747.2L457.2 746.2L458.6 745.4L460.1 744.7L461.7 744.3L463.4 743.9L465.1 743.8L466.8 743.9L468.5 744.1L470.1 744.6L471.6 745.2L473.1 746L474.3 746.9L475.1 745.8L476.1 744.8L477.2 744L478.5 743.2L479.8 742.7L481.3 742.3L482.8 742.1L484.3 742L485.8 742.2L487.3 742.5L488.7 743.1L490 743.7L491.1 744.5L492.2 745.5L493.5 744.4L495 743.5L496.7 742.8L498.5 742.3L500.4 742.1L502.3 742.1L504.1 742.4L505.9 742.9L507.6 743.7L509.1 744.6L510.3 745.8L511.4 747.1L512.2 748.6L512.6 750.1L514.1 750.5L515.5 751.1L516.9 751.8L518.1 752.6L519.2 753.6L520.1 754.6L520.9 755.8L521.5 757L521.9 758.3L522.1 759.6L522.1 760.9L522 762.2L521.6 763.5L521.1 764.7L522.4 766.4L523.4 768.2L524.1 770.2L524.5 772.2L524.4 774.2L524 776.2L523.3 778.1L522.2 780L520.8 781.6L519.1 783.1L517.2 784.3L515.1 785.3L512.8 786.1L510.4 786.5L510.3 788.3L509.8 790L509 791.6L507.9 793.1L506.5 794.5L505 795.6L503.2 796.6L501.3 797.3L499.2 797.8L497.1 798L495 798L492.9 797.7L490.9 797.1L489.1 796.3L488.1 798.3L486.8 800.2L485.1 801.9L483.1 803.3L480.9 804.5L478.4 805.3L475.9 805.8L473.2 805.9L470.6 805.7L468.1 805.2L465.7 804.3L463.5 803.1L461.6 801.6L459.9 799.9L458 800.7L456.1 801.4L454 801.8L451.9 802.1L449.8 802.1L447.7 802L445.6 801.6L443.6 801.1L441.7 800.3L439.9 799.4L438.2 798.4L436.7 797.1L435.3 795.8L434.1 794.3L432.3 794.3L430.5 794.1L428.8 793.6L427.1 792.9L425.7 792L424.5 790.8L423.5 789.5L422.8 788.1L422.5 786.6L422.4 785.1L422.7 783.6L423.2 782.2L424.1 780.8L425.2 779.6L423.7 778.7L422.4 777.6L421.3 776.3L420.6 774.8L420.2 773.3L420.1 771.7L420.3 770.2L420.8 768.7L421.7 767.3L422.9 766L424.3 765L425.9 764.2L427.6 763.6L429.5 763.3Z" fill="url(#g2)" stroke="#385d8a" stroke-width="3.1" stroke-linejoin="round"/><path d="M431.5 780.5L430.7 780.6L429.9 780.5L429.1 780.5L428.3 780.3L427.5 780.2L426.8 779.9L426 779.7L425.3 779.4M436.9 793.4L436.5 793.5L436.2 793.6L435.9 793.7L435.5 793.8L435.2 793.9L434.9 793.9L434.5 794L434.2 794M459.9 799.6L459.7 799.3L459.4 799L459.2 798.7L459 798.4L458.8 798.1L458.6 797.7L458.5 797.4L458.3 797.1M489.7 793.2L489.7 793.6L489.6 793.9L489.6 794.3L489.5 794.6L489.4 795L489.3 795.4L489.2 795.7L489.1 796M502.5 775.8L504.2 776.6L505.8 777.6L507.1 778.8L508.3 780.1L509.2 781.6L509.9 783.1L510.3 784.7L510.4 786.3M521 764.5L520.7 765.1L520.4 765.6L520 766.2L519.6 766.7L519.1 767.2L518.6 767.6L518.1 768.1L517.5 768.5M512.7 749.9L512.7 750.1L512.7 750.3L512.8 750.6L512.8 750.8L512.8 751L512.8 751.3L512.8 751.5L512.8 751.7M490.3 747.7L490.5 747.4L490.7 747L490.9 746.7L491.1 746.4L491.4 746.1L491.6 745.8L491.9 745.6L492.1 745.3M473.6 748.8L473.7 748.5L473.7 748.3L473.8 748L473.9 747.8L474.1 747.5L474.2 747.3L474.3 747L474.5 746.8M453.9 749.5L454.4 749.7L454.8 749.9L455.2 750.2L455.6 750.4L456 750.7L456.3 750.9L456.7 751.2L457.1 751.5M430.1 765.2L430 764.9L429.9 764.7L429.8 764.4L429.8 764.1L429.7 763.9L429.6 763.6L429.6 763.3L429.5 763.1" fill="none" stroke="#385d8a" stroke-width="3.1" stroke-linecap="round" stroke-linejoin="round"/>
<rect x="170.6" y="747.9" width="192.8" height="47" rx="0" fill="url(#g1)" stroke="#385d8a" stroke-width="3.4"/>
<rect x="165.1" y="801.8" width="213.8" height="100.4" rx="0" fill="url(#g1)" stroke="#385d8a" stroke-width="3.4"/>
<path d="M642 787.6L641.8 785.2L642.2 782.8L643 780.5L644.3 778.4L646 776.4L648.1 774.7L650.6 773.2L653.3 772L656.3 771.2L659.3 770.8L662.5 770.7L665.6 771L668.6 771.7L671.4 772.7L672.5 771.4L673.8 770.2L675.3 769.1L677 768.2L678.8 767.5L680.8 767L682.8 766.6L684.8 766.5L686.9 766.6L688.9 766.8L690.9 767.3L692.7 768L694.5 768.8L696 769.9L697 768.7L698.1 767.6L699.5 766.6L701 765.9L702.6 765.2L704.4 764.8L706.2 764.6L708 764.5L709.9 764.7L711.6 765.1L713.3 765.6L714.9 766.4L716.3 767.3L717.5 768.3L719.1 767.1L721 766.1L723 765.3L725.2 764.8L727.4 764.6L729.7 764.6L732 764.9L734.1 765.5L736.1 766.3L737.9 767.4L739.4 768.7L740.7 770.1L741.6 771.7L742.2 773.3L744 773.8L745.7 774.4L747.3 775.2L748.8 776.1L750.1 777.2L751.2 778.3L752.1 779.6L752.8 780.9L753.3 782.3L753.6 783.7L753.6 785.1L753.5 786.6L753 788L752.4 789.3L754 791.2L755.2 793.2L756.1 795.3L756.4 797.5L756.4 799.7L755.9 801.9L755 804L753.7 806L752 807.8L750 809.4L747.7 810.8L745.2 811.9L742.4 812.7L739.6 813.2L739.3 815.1L738.7 817L737.8 818.7L736.5 820.4L734.9 821.9L733 823.2L730.8 824.2L728.5 825L726 825.5L723.5 825.8L721 825.7L718.5 825.4L716 824.8L713.8 823.9L712.6 826.1L711 828.2L709 830L706.6 831.6L703.9 832.8L701 833.7L697.9 834.3L694.7 834.4L691.6 834.2L688.5 833.6L685.6 832.6L682.9 831.3L680.6 829.7L678.6 827.8L676.4 828.7L674 829.4L671.5 829.9L669 830.2L666.4 830.3L663.9 830.1L661.4 829.7L659 829.1L656.6 828.3L654.4 827.3L652.4 826.2L650.6 824.8L648.9 823.3L647.5 821.7L645.3 821.7L643.2 821.5L641.1 821L639.1 820.2L637.4 819.2L635.9 817.9L634.7 816.5L633.9 815L633.5 813.3L633.4 811.7L633.7 810L634.4 808.4L635.4 807L636.8 805.6L635 804.6L633.4 803.4L632.1 802L631.2 800.4L630.7 798.7L630.5 797L630.8 795.3L631.5 793.7L632.6 792.1L633.9 790.8L635.6 789.6L637.6 788.7L639.7 788.1L641.9 787.8Z" fill="url(#g2)" stroke="#385d8a" stroke-width="3.1" stroke-linejoin="round"/><path d="M644.3 806.7L643.4 806.7L642.4 806.7L641.4 806.6L640.5 806.4L639.6 806.3L638.7 806L637.8 805.7L636.9 805.4M650.8 820.8L650.4 820.9L650 821L649.6 821.1L649.2 821.2L648.8 821.2L648.4 821.3L648 821.3L647.6 821.4M678.6 827.5L678.3 827.2L678.1 826.9L677.8 826.5L677.6 826.2L677.3 825.8L677.1 825.5L676.9 825.1L676.7 824.7M714.6 820.5L714.5 820.9L714.5 821.3L714.4 821.7L714.3 822.1L714.2 822.5L714.1 822.9L713.9 823.2L713.8 823.6M730 801.4L732.1 802.3L733.9 803.4L735.6 804.7L737 806.2L738.1 807.8L738.9 809.4L739.3 811.2L739.5 813M752.3 789.1L752 789.8L751.5 790.4L751.1 790.9L750.6 791.5L750 792L749.4 792.5L748.8 793L748.1 793.5M742.2 773.1L742.3 773.3L742.3 773.6L742.4 773.9L742.4 774.1L742.4 774.4L742.4 774.6L742.5 774.9L742.5 775.1M715.3 770.7L715.5 770.4L715.8 770L716 769.7L716.3 769.3L716.5 769L716.8 768.7L717.1 768.4L717.5 768.1M695.1 771.9L695.2 771.7L695.3 771.4L695.4 771.1L695.5 770.8L695.7 770.5L695.8 770.2L696 770L696.2 769.7M671.4 772.7L671.9 772.9L672.4 773.2L672.9 773.4L673.4 773.7L673.9 774L674.3 774.3L674.8 774.6L675.2 774.9M642.7 789.9L642.6 789.6L642.5 789.3L642.4 789L642.3 788.7L642.2 788.4L642.1 788.1L642.1 787.8L642 787.6" fill="none" stroke="#385d8a" stroke-width="3.1" stroke-linecap="round" stroke-linejoin="round"/>
<path d="M792.7 787.9L792.4 785.6L792.9 783.3L794 781.1L795.8 779L798.1 777.1L801 775.4L804.4 773.9L808.1 772.8L812.2 772L816.4 771.6L820.7 771.5L824.9 771.8L829 772.5L832.9 773.5L834.3 772.2L836.1 771L838.2 770L840.5 769.1L843 768.4L845.6 767.9L848.4 767.6L851.2 767.4L854 767.5L856.7 767.8L859.4 768.2L862 768.9L864.3 769.7L866.5 770.7L867.7 769.5L869.3 768.5L871.2 767.6L873.2 766.8L875.5 766.2L877.9 765.8L880.3 765.6L882.9 765.5L885.3 765.7L887.8 766.1L890.1 766.6L892.2 767.3L894.1 768.2L895.8 769.2L898 768L900.5 767.1L903.3 766.3L906.3 765.8L909.3 765.6L912.5 765.6L915.5 765.9L918.4 766.5L921.2 767.3L923.6 768.3L925.7 769.5L927.4 770.9L928.7 772.5L929.5 774.1L932 774.5L934.3 775.1L936.5 775.9L938.5 776.8L940.2 777.8L941.8 778.9L943 780.1L944 781.4L944.7 782.8L945.1 784.2L945.1 785.5L944.9 786.9L944.3 788.3L943.4 789.6L945.6 791.4L947.3 793.4L948.4 795.4L948.9 797.6L948.9 799.7L948.2 801.9L947 803.9L945.2 805.8L942.9 807.6L940.2 809.2L937 810.5L933.5 811.5L929.8 812.3L925.9 812.8L925.6 814.6L924.8 816.5L923.5 818.2L921.7 819.8L919.5 821.2L916.9 822.5L914 823.5L910.8 824.3L907.4 824.8L904 825L900.5 825L897.1 824.6L893.8 824L890.7 823.2L889.1 825.3L886.9 827.3L884.1 829.1L880.9 830.7L877.2 831.9L873.2 832.8L869 833.3L864.6 833.4L860.3 833.2L856.2 832.6L852.2 831.7L848.6 830.4L845.4 828.8L842.7 827L839.6 827.9L836.4 828.6L833 829.1L829.5 829.3L826.1 829.4L822.6 829.2L819.2 828.9L815.8 828.3L812.7 827.5L809.7 826.5L806.9 825.4L804.4 824.1L802.2 822.6L800.3 821.1L797.2 821.1L794.3 820.9L791.4 820.4L788.7 819.6L786.4 818.6L784.4 817.4L782.8 816L781.6 814.5L781 812.9L780.9 811.3L781.4 809.7L782.3 808.2L783.7 806.7L785.6 805.5L783.1 804.5L780.9 803.3L779.2 801.9L777.9 800.4L777.2 798.8L777 797.1L777.4 795.4L778.4 793.8L779.8 792.3L781.7 791L784 789.9L786.6 789L789.5 788.4L792.5 788.1Z" fill="url(#g2)" stroke="#385d8a" stroke-width="3.1" stroke-linejoin="round"/><path d="M795.8 806.5L794.5 806.5L793.2 806.5L791.9 806.4L790.6 806.2L789.4 806.1L788.1 805.8L786.9 805.5L785.8 805.2M804.7 820.2L804.2 820.3L803.7 820.4L803.1 820.5L802.6 820.5L802 820.6L801.4 820.7L800.9 820.7L800.3 820.8M842.7 826.7L842.3 826.4L841.9 826.1L841.6 825.8L841.2 825.4L840.9 825.1L840.6 824.7L840.3 824.4L840 824M891.8 819.9L891.7 820.3L891.6 820.7L891.5 821.1L891.4 821.4L891.3 821.8L891.1 822.2L890.9 822.6L890.7 822.9M912.9 801.4L915.7 802.3L918.2 803.3L920.4 804.6L922.3 806L923.8 807.5L924.9 809.2L925.6 810.9L925.8 812.6M943.3 789.4L942.8 790L942.3 790.6L941.6 791.2L940.9 791.7L940.2 792.2L939.4 792.7L938.5 793.2L937.6 793.6M929.5 773.8L929.6 774.1L929.7 774.3L929.7 774.6L929.8 774.8L929.8 775.1L929.8 775.3L929.8 775.6L929.8 775.8M892.8 771.5L893.1 771.2L893.4 770.9L893.7 770.5L894.1 770.2L894.5 769.9L894.9 769.6L895.3 769.3L895.7 769M865.2 772.7L865.3 772.5L865.5 772.2L865.6 771.9L865.8 771.6L866 771.3L866.2 771.1L866.4 770.8L866.6 770.6M832.8 773.5L833.5 773.7L834.2 773.9L834.9 774.2L835.5 774.5L836.2 774.7L836.8 775L837.4 775.3L838 775.6M793.6 790.1L793.4 789.9L793.3 789.6L793.2 789.3L793.1 789L792.9 788.7L792.9 788.5L792.8 788.2L792.7 787.9" fill="none" stroke="#385d8a" stroke-width="3.1" stroke-linecap="round" stroke-linejoin="round"/>
<rect x="418.6" y="881.1" width="149.3" height="48.3" rx="0" fill="url(#g1)" stroke="#385d8a" stroke-width="3.4"/>
<rect x="768.6" y="846.1" width="183.8" height="55.8" rx="10" fill="url(#g1)" stroke="#385d8a" stroke-width="3.4"/>
<path d="M231 946.1L230.9 944L231.2 942L231.9 940L232.9 938.1L234.4 936.4L236.1 934.9L238.2 933.6L240.4 932.6L242.9 931.9L245.4 931.5L248 931.4L250.6 931.7L253.1 932.3L255.4 933.2L256.3 932L257.4 931L258.7 930L260.1 929.3L261.6 928.6L263.2 928.1L264.9 927.9L266.6 927.7L268.3 927.8L270 928L271.6 928.5L273.1 929L274.6 929.8L275.8 930.7L276.6 929.6L277.6 928.7L278.7 927.9L280 927.2L281.3 926.6L282.8 926.3L284.3 926.1L285.8 926L287.3 926.2L288.8 926.5L290.2 927L291.5 927.6L292.6 928.4L293.7 929.3L295 928.3L296.5 927.4L298.2 926.7L300 926.3L301.9 926.1L303.8 926.1L305.6 926.4L307.4 926.9L309.1 927.6L310.6 928.5L311.8 929.6L312.9 930.9L313.7 932.3L314.1 933.7L315.6 934.1L317 934.6L318.4 935.3L319.6 936.1L320.7 937L321.6 938L322.4 939.1L323 940.3L323.4 941.5L323.6 942.7L323.6 944L323.5 945.2L323.1 946.5L322.6 947.6L323.9 949.2L324.9 951L325.6 952.9L326 954.8L325.9 956.7L325.5 958.6L324.8 960.4L323.7 962.2L322.3 963.8L320.6 965.2L318.7 966.4L316.6 967.3L314.3 968L311.9 968.4L311.8 970.1L311.3 971.7L310.5 973.3L309.4 974.7L308 976L306.5 977.1L304.7 978L302.8 978.7L300.7 979.2L298.6 979.4L296.5 979.3L294.4 979.1L292.4 978.5L290.6 977.7L289.6 979.7L288.3 981.5L286.6 983.1L284.6 984.4L282.4 985.5L279.9 986.3L277.4 986.8L274.7 986.9L272.1 986.8L269.6 986.2L267.2 985.4L265 984.2L263.1 982.8L261.4 981.2L259.5 982L257.6 982.6L255.5 983L253.4 983.2L251.3 983.3L249.2 983.2L247.1 982.8L245.1 982.3L243.2 981.6L241.4 980.7L239.7 979.7L238.2 978.5L236.8 977.2L235.6 975.8L233.8 975.9L232 975.7L230.3 975.2L228.6 974.5L227.2 973.6L226 972.5L225 971.3L224.3 970L224 968.5L223.9 967.1L224.2 965.7L224.7 964.3L225.6 963L226.7 961.8L225.2 961L223.9 959.9L222.8 958.7L222.1 957.3L221.7 955.8L221.6 954.3L221.8 952.8L222.3 951.4L223.2 950.1L224.4 948.9L225.8 947.9L227.4 947.1L229.1 946.6L231 946.3Z" fill="url(#g2)" stroke="#385d8a" stroke-width="3.1" stroke-linejoin="round"/><path d="M233 962.7L232.2 962.8L231.4 962.7L230.6 962.7L229.8 962.5L229 962.4L228.3 962.2L227.5 961.9L226.8 961.6M238.4 975L238 975.1L237.7 975.2L237.4 975.3L237 975.4L236.7 975.4L236.4 975.5L236 975.5L235.7 975.6M261.4 980.9L261.2 980.6L260.9 980.3L260.7 980L260.5 979.7L260.3 979.4L260.1 979.1L260 978.8L259.8 978.5M291.2 974.8L291.2 975.2L291.1 975.5L291.1 975.8L291 976.2L290.9 976.5L290.8 976.8L290.7 977.2L290.6 977.5M304 958.2L305.7 959L307.3 959.9L308.6 961.1L309.8 962.3L310.7 963.7L311.4 965.2L311.8 966.7L311.9 968.3M322.5 947.5L322.2 948L321.9 948.5L321.5 949L321.1 949.5L320.6 950L320.1 950.4L319.6 950.9L319 951.3M314.2 933.5L314.2 933.7L314.2 933.9L314.3 934.2L314.3 934.4L314.3 934.6L314.3 934.8L314.3 935L314.3 935.3M291.8 931.4L292 931.1L292.2 930.8L292.4 930.5L292.6 930.2L292.9 929.9L293.1 929.7L293.4 929.4L293.6 929.1M275.1 932.5L275.2 932.2L275.2 932L275.3 931.7L275.4 931.5L275.6 931.2L275.7 931L275.8 930.8L276 930.5M255.4 933.2L255.9 933.4L256.3 933.6L256.7 933.8L257.1 934L257.5 934.3L257.8 934.5L258.2 934.8L258.6 935.1M231.6 948.1L231.5 947.8L231.4 947.6L231.3 947.4L231.3 947.1L231.2 946.9L231.1 946.6L231.1 946.3L231 946.1" fill="none" stroke="#385d8a" stroke-width="3.1" stroke-linecap="round" stroke-linejoin="round"/>
<path d="M799.8 1061.2L799.6 1058.7L800 1056.2L801 1053.8L802.6 1051.6L804.7 1049.5L807.4 1047.7L810.4 1046.1L813.8 1044.9L817.5 1044.1L821.3 1043.6L825.2 1043.5L829.1 1043.8L832.8 1044.6L836.3 1045.6L837.7 1044.2L839.3 1043L841.2 1041.9L843.3 1040.9L845.5 1040.1L847.9 1039.6L850.4 1039.2L853 1039.1L855.5 1039.2L858.1 1039.5L860.5 1040L862.8 1040.7L865 1041.6L866.9 1042.6L868.1 1041.4L869.5 1040.2L871.2 1039.2L873.1 1038.4L875.1 1037.8L877.3 1037.3L879.5 1037.1L881.8 1037L884.1 1037.2L886.3 1037.6L888.4 1038.2L890.3 1039L892.1 1039.9L893.6 1041L895.6 1039.7L897.9 1038.7L900.4 1037.9L903.1 1037.3L905.9 1037.1L908.7 1037.1L911.5 1037.4L914.2 1038L916.7 1038.9L918.9 1040L920.8 1041.4L922.4 1042.9L923.5 1044.5L924.3 1046.3L926.5 1046.8L928.6 1047.4L930.6 1048.2L932.4 1049.2L934 1050.3L935.4 1051.5L936.6 1052.8L937.5 1054.2L938.1 1055.7L938.4 1057.2L938.5 1058.7L938.2 1060.2L937.7 1061.6L936.9 1063.1L938.9 1065L940.4 1067.1L941.5 1069.4L941.9 1071.7L941.9 1074L941.3 1076.3L940.2 1078.5L938.6 1080.6L936.5 1082.5L934 1084.2L931.1 1085.6L927.9 1086.8L924.5 1087.6L921 1088.1L920.7 1090.1L920 1092.1L918.8 1094L917.1 1095.7L915.1 1097.3L912.8 1098.6L910.1 1099.7L907.2 1100.5L904.2 1101.1L901 1101.3L897.9 1101.3L894.8 1100.9L891.8 1100.3L889 1099.3L887.5 1101.7L885.5 1103.8L883 1105.8L880 1107.4L876.6 1108.8L873 1109.7L869.2 1110.3L865.2 1110.5L861.3 1110.2L857.5 1109.6L853.9 1108.6L850.6 1107.2L847.7 1105.5L845.3 1103.5L842.5 1104.4L839.5 1105.2L836.4 1105.7L833.3 1106L830.1 1106.1L827 1105.9L823.9 1105.5L820.8 1104.9L817.9 1104L815.2 1103L812.7 1101.7L810.4 1100.3L808.4 1098.8L806.7 1097.1L803.9 1097.1L801.2 1096.9L798.6 1096.3L796.2 1095.5L794 1094.4L792.2 1093.1L790.8 1091.6L789.7 1090L789.2 1088.3L789.1 1086.5L789.5 1084.8L790.3 1083.1L791.6 1081.6L793.3 1080.2L791 1079.1L789.1 1077.9L787.5 1076.4L786.4 1074.7L785.7 1072.9L785.5 1071.1L785.9 1069.3L786.7 1067.6L788 1066L789.8 1064.6L791.9 1063.4L794.3 1062.4L796.9 1061.8L799.6 1061.4Z" fill="url(#g2)" stroke="#385d8a" stroke-width="3.1" stroke-linejoin="round"/><path d="M802.6 1081.3L801.5 1081.3L800.3 1081.3L799.1 1081.2L797.9 1081L796.8 1080.8L795.6 1080.6L794.5 1080.3L793.5 1079.9M810.7 1096.1L810.2 1096.2L809.8 1096.3L809.3 1096.4L808.8 1096.5L808.3 1096.6L807.7 1096.6L807.2 1096.7L806.7 1096.7M845.3 1103.2L844.9 1102.9L844.6 1102.5L844.2 1102.1L843.9 1101.8L843.6 1101.4L843.4 1101L843.1 1100.6L842.9 1100.2M889.9 1095.8L889.9 1096.2L889.8 1096.7L889.7 1097.1L889.6 1097.5L889.5 1097.9L889.3 1098.3L889.1 1098.7L889 1099.1M909.1 1075.8L911.7 1076.7L914 1077.9L916 1079.2L917.7 1080.8L919.1 1082.4L920.1 1084.2L920.7 1086L920.9 1087.9M936.8 1062.9L936.4 1063.5L935.9 1064.2L935.3 1064.8L934.6 1065.3L934 1065.9L933.2 1066.4L932.4 1066.9L931.6 1067.4M924.3 1046L924.4 1046.3L924.4 1046.5L924.5 1046.8L924.5 1047.1L924.5 1047.4L924.6 1047.6L924.6 1047.9L924.6 1048.2M890.8 1043.5L891.1 1043.1L891.4 1042.8L891.7 1042.4L892 1042.1L892.4 1041.7L892.7 1041.4L893.1 1041.1L893.5 1040.8M865.8 1044.8L865.9 1044.5L866 1044.2L866.1 1043.9L866.3 1043.6L866.5 1043.3L866.6 1043L866.8 1042.7L867.1 1042.5M836.3 1045.6L836.9 1045.9L837.6 1046.1L838.2 1046.4L838.8 1046.7L839.3 1047L839.9 1047.3L840.5 1047.6L841 1047.9M800.6 1063.6L800.5 1063.3L800.3 1063L800.2 1062.7L800.1 1062.4L800 1062.1L799.9 1061.8L799.8 1061.5L799.8 1061.2" fill="none" stroke="#385d8a" stroke-width="3.1" stroke-linecap="round" stroke-linejoin="round"/>
<rect x="872.6" y="1137.1" width="90.8" height="33.3" rx="0" fill="url(#g1)" stroke="#385d8a" stroke-width="3.4"/>
<rect x="875.6" y="1211.1" width="62.3" height="33.3" rx="0" fill="url(#g1)" stroke="#385d8a" stroke-width="3.4"/>
<path d="M434.3 1184.7L434.1 1182.5L434.5 1180.2L435.7 1178L437.5 1175.9L440 1174L443 1172.3L446.5 1170.9L450.4 1169.8L454.6 1169L459 1168.6L463.4 1168.5L467.8 1168.8L472.1 1169.4L476.1 1170.4L477.7 1169.2L479.5 1168L481.7 1167L484.1 1166.1L486.7 1165.4L489.4 1164.9L492.3 1164.5L495.2 1164.4L498.1 1164.5L501 1164.8L503.8 1165.2L506.4 1165.9L508.9 1166.7L511.1 1167.7L512.4 1166.5L514.1 1165.5L516 1164.6L518.1 1163.8L520.5 1163.2L523 1162.8L525.6 1162.6L528.2 1162.5L530.8 1162.7L533.3 1163.1L535.7 1163.6L537.9 1164.3L539.9 1165.2L541.6 1166.2L543.9 1165L546.5 1164L549.4 1163.3L552.5 1162.8L555.7 1162.6L559 1162.6L562.2 1162.9L565.2 1163.5L568 1164.3L570.6 1165.3L572.8 1166.5L574.6 1167.9L575.9 1169.4L576.7 1171L579.3 1171.5L581.7 1172.1L584 1172.8L586 1173.7L587.9 1174.7L589.5 1175.8L590.8 1177L591.8 1178.3L592.5 1179.6L592.9 1181L593 1182.4L592.7 1183.8L592.1 1185.1L591.2 1186.4L593.5 1188.2L595.2 1190.2L596.4 1192.2L597 1194.3L596.9 1196.5L596.2 1198.6L594.9 1200.6L593.1 1202.5L590.7 1204.3L587.8 1205.8L584.5 1207.2L580.9 1208.2L577 1209L572.9 1209.4L572.6 1211.3L571.8 1213.1L570.4 1214.8L568.6 1216.4L566.3 1217.8L563.6 1219.1L560.5 1220.1L557.2 1220.9L553.7 1221.4L550.2 1221.6L546.5 1221.5L543 1221.2L539.5 1220.6L536.3 1219.7L534.7 1221.9L532.4 1223.9L529.5 1225.7L526.1 1227.2L522.3 1228.4L518.1 1229.3L513.7 1229.8L509.2 1230L504.7 1229.7L500.4 1229.1L496.3 1228.2L492.5 1226.9L489.2 1225.4L486.4 1223.6L483.2 1224.4L479.8 1225.1L476.3 1225.6L472.7 1225.9L469 1225.9L465.4 1225.8L461.9 1225.4L458.4 1224.8L455.1 1224L452 1223.1L449.1 1221.9L446.5 1220.7L444.2 1219.2L442.2 1217.6L439.1 1217.7L436 1217.5L433 1217L430.2 1216.2L427.7 1215.2L425.7 1214L424 1212.6L422.8 1211.1L422.2 1209.6L422.1 1208L422.5 1206.4L423.5 1204.9L425 1203.4L426.9 1202.2L424.3 1201.2L422.1 1200L420.3 1198.6L419 1197.1L418.2 1195.5L418.1 1193.9L418.4 1192.2L419.4 1190.6L420.9 1189.1L422.9 1187.8L425.3 1186.7L428 1185.9L431 1185.3L434.2 1184.9Z" fill="url(#g2)" stroke="#385d8a" stroke-width="3.1" stroke-linejoin="round"/><path d="M437.6 1203.2L436.2 1203.2L434.9 1203.2L433.5 1203.1L432.2 1202.9L430.9 1202.8L429.6 1202.5L428.3 1202.2L427.1 1201.9M446.9 1216.8L446.3 1216.9L445.7 1217L445.2 1217.1L444.6 1217.1L444 1217.2L443.4 1217.3L442.9 1217.3L442.3 1217.4M486.4 1223.3L486 1223L485.6 1222.6L485.2 1222.3L484.8 1222L484.5 1221.6L484.2 1221.3L483.9 1220.9L483.6 1220.6M537.5 1216.5L537.4 1216.9L537.3 1217.3L537.2 1217.7L537.1 1218L536.9 1218.4L536.7 1218.8L536.6 1219.1L536.3 1219.5M559.4 1198.1L562.3 1199L564.9 1200.1L567.3 1201.3L569.3 1202.7L570.8 1204.2L572 1205.8L572.6 1207.5L572.8 1209.3M591.1 1186.3L590.6 1186.9L590 1187.4L589.3 1188L588.6 1188.5L587.8 1189L587 1189.5L586.1 1190L585.1 1190.4M576.7 1170.8L576.8 1171L576.9 1171.3L576.9 1171.5L577 1171.8L577 1172L577 1172.3L577.1 1172.5L577.1 1172.8M538.5 1168.5L538.8 1168.1L539.1 1167.8L539.5 1167.5L539.8 1167.2L540.2 1166.9L540.7 1166.6L541.1 1166.3L541.6 1166M509.8 1169.7L509.9 1169.4L510.1 1169.1L510.2 1168.8L510.4 1168.6L510.6 1168.3L510.8 1168L511 1167.8L511.3 1167.5M476.1 1170.4L476.8 1170.6L477.5 1170.9L478.2 1171.1L478.9 1171.4L479.6 1171.7L480.2 1171.9L480.9 1172.2L481.5 1172.5M435.3 1186.9L435.1 1186.7L435 1186.4L434.8 1186.1L434.7 1185.9L434.6 1185.6L434.5 1185.3L434.4 1185L434.3 1184.7" fill="none" stroke="#385d8a" stroke-width="3.1" stroke-linecap="round" stroke-linejoin="round"/>
<rect x="150.1" y="1181.1" width="232.8" height="41.3" rx="0" fill="url(#g1)" stroke="#385d8a" stroke-width="3.4"/>
</svg>
<svg width="992" height="1403" viewBox="0 0 992 1403">
<path d="M623 56L698 56" stroke="#000" stroke-width="1.9" fill="none"/>
<path d="M686.7 62.5L698 56L686.7 49.5" fill="none" stroke="#000" stroke-width="1.9" stroke-linecap="round" stroke-linejoin="miter"/>
<path d="M623 115L698 115" stroke="#000" stroke-width="1.9" fill="none"/>
<path d="M686.7 121.5L698 115L686.7 108.5" fill="none" stroke="#000" stroke-width="1.9" stroke-linecap="round" stroke-linejoin="miter"/>
<path d="M428 205L395 181" stroke="#000" stroke-width="1.9" fill="none"/>
<path d="M407.9 182.4L395 181L400.3 192.9" fill="none" stroke="#000" stroke-width="1.9" stroke-linecap="round" stroke-linejoin="miter"/>
<path d="M428 205L385 205" stroke="#000" stroke-width="1.9" fill="none"/>
<path d="M396.3 198.5L385 205L396.3 211.5" fill="none" stroke="#000" stroke-width="1.9" stroke-linecap="round" stroke-linejoin="miter"/>
<path d="M428 205L395 230" stroke="#000" stroke-width="1.9" fill="none"/>
<path d="M400.1 218L395 230L407.9 228.3" fill="none" stroke="#000" stroke-width="1.9" stroke-linecap="round" stroke-linejoin="miter"/>
<path d="M491 278L447 294.5" stroke="#000" stroke-width="1.9" fill="none"/>
<path d="M455.3 284.5L447 294.5L459.8 296.6" fill="none" stroke="#000" stroke-width="1.9" stroke-linecap="round" stroke-linejoin="miter"/>
<path d="M822 310L777.5 314.5" stroke="#000" stroke-width="1.9" fill="none"/>
<path d="M788.1 306.9L777.5 314.5L789.4 319.8" fill="none" stroke="#000" stroke-width="1.9" stroke-linecap="round" stroke-linejoin="miter"/>
<path d="M824 332L779 336" stroke="#000" stroke-width="1.9" fill="none"/>
<path d="M789.7 328.6L779 336L790.8 341.4" fill="none" stroke="#000" stroke-width="1.9" stroke-linecap="round" stroke-linejoin="miter"/>
<path d="M830.5 347L785 359.5" stroke="#000" stroke-width="1.9" fill="none"/>
<path d="M794.2 350.3L785 359.5L797.6 362.7" fill="none" stroke="#000" stroke-width="1.9" stroke-linecap="round" stroke-linejoin="miter"/>
<path d="M836.5 354.5L804 383" stroke="#000" stroke-width="1.9" fill="none"/>
<path d="M808.2 370.7L804 383L816.7 380.4" fill="none" stroke="#000" stroke-width="1.9" stroke-linecap="round" stroke-linejoin="miter"/>
<path d="M857 364.5L857 398.5" stroke="#000" stroke-width="1.9" fill="none"/>
<path d="M850.5 387.2L857 398.5L863.5 387.2" fill="none" stroke="#000" stroke-width="1.9" stroke-linecap="round" stroke-linejoin="miter"/>
<path d="M919 369L925.5 397" stroke="#000" stroke-width="1.9" fill="none"/>
<path d="M916.7 387.5L925.5 397L929.2 384.5" fill="none" stroke="#000" stroke-width="1.9" stroke-linecap="round" stroke-linejoin="miter"/>
<path d="M732.5 360.5L708 360.5" stroke="#000" stroke-width="1.9" fill="none"/>
<path d="M718.2 354.7L708 360.5L718.2 366.3" fill="none" stroke="#000" stroke-width="1.9" stroke-linecap="round" stroke-linejoin="miter"/>
<path d="M130 433C130 417 130 415 135 415L238.5 415C242.5 415 243.5 413 243.5 395.5C243.5 413 244.5 415 248.5 415L351 415C356 415 356 417 356 433" stroke="#000" stroke-width="1.6" fill="none" stroke-linejoin="round"/>
<path d="M115 452L100.5 466" stroke="#000" stroke-width="1.9" fill="none"/>
<path d="M103.8 454.8L100.5 466L111.8 463.1" fill="none" stroke="#000" stroke-width="1.9" stroke-linecap="round" stroke-linejoin="miter"/>
<path d="M129.5 453.5L129.5 475" stroke="#000" stroke-width="1.9" fill="none"/>
<path d="M123.7 464.8L129.5 475L135.3 464.8" fill="none" stroke="#000" stroke-width="1.9" stroke-linecap="round" stroke-linejoin="miter"/>
<path d="M142.5 452L164 469.5" stroke="#000" stroke-width="1.9" fill="none"/>
<path d="M152.5 467.6L164 469.5L159.8 458.6" fill="none" stroke="#000" stroke-width="1.9" stroke-linecap="round" stroke-linejoin="miter"/>
<path d="M305 487C305 477.5 305 475.5 309 475.5L349 475.5C352 475.5 353 473.5 353 456C353 473.5 354 475.5 357 475.5L398 475.5C402 475.5 402 477.5 402 487" stroke="#000" stroke-width="1.6" fill="none" stroke-linejoin="round"/>
<path d="M110.5 689L110.5 720.5" stroke="#000" stroke-width="1.9" fill="none"/>
<path d="M104.7 710.3L110.5 720.5L116.3 710.3" fill="none" stroke="#000" stroke-width="1.9" stroke-linecap="round" stroke-linejoin="miter"/>
<path d="M419.5 616.5L398.5 616.5" stroke="#000" stroke-width="1.9" fill="none"/>
<path d="M407.5 611.3L398.5 616.5L407.5 621.7" fill="none" stroke="#000" stroke-width="1.9" stroke-linecap="round" stroke-linejoin="miter"/>
<path d="M405 648.5L382 648.5" stroke="#000" stroke-width="1.9" fill="none"/>
<path d="M391 643.3L382 648.5L391 653.7" fill="none" stroke="#000" stroke-width="1.9" stroke-linecap="round" stroke-linejoin="miter"/>
<path d="M386 682L365 682" stroke="#000" stroke-width="1.9" fill="none"/>
<path d="M374 676.8L365 682L374 687.2" fill="none" stroke="#000" stroke-width="1.9" stroke-linecap="round" stroke-linejoin="miter"/>
<path d="M323 682L302 682" stroke="#000" stroke-width="1.9" fill="none"/>
<path d="M311 676.8L302 682L311 687.2" fill="none" stroke="#000" stroke-width="1.9" stroke-linecap="round" stroke-linejoin="miter"/>
<path d="M575 424L550 429.5" stroke="#000" stroke-width="1.9" fill="none"/>
<path d="M558.7 421.6L550 429.5L561.2 433" fill="none" stroke="#000" stroke-width="1.9" stroke-linecap="round" stroke-linejoin="miter"/>
<path d="M572 451L546 456.5" stroke="#000" stroke-width="1.9" fill="none"/>
<path d="M554.7 448.7L546 456.5L557.1 460.1" fill="none" stroke="#000" stroke-width="1.9" stroke-linecap="round" stroke-linejoin="miter"/>
<path d="M580 472L553 481.5" stroke="#000" stroke-width="1.9" fill="none"/>
<path d="M560.6 472.6L553 481.5L564.5 483.6" fill="none" stroke="#000" stroke-width="1.9" stroke-linecap="round" stroke-linejoin="miter"/>
<path d="M605 477L597 494" stroke="#000" stroke-width="1.9" fill="none"/>
<path d="M596.1 482.3L597 494L606.6 487.3" fill="none" stroke="#000" stroke-width="1.9" stroke-linecap="round" stroke-linejoin="miter"/>
<path d="M648 468L656 486" stroke="#000" stroke-width="1.9" fill="none"/>
<path d="M646.6 479.1L656 486L657.2 474.4" fill="none" stroke="#000" stroke-width="1.9" stroke-linecap="round" stroke-linejoin="miter"/>
<path d="M730 469.5C693 474 707 520 673.5 527.5" stroke="#000" stroke-width="1.9" fill="none" stroke-linejoin="round" stroke-linecap="round"/>
<path d="M681.8 518.8L673.5 527.5L685.2 530.2" fill="none" stroke="#000" stroke-width="1.9" stroke-linecap="round" stroke-linejoin="miter"/>
<path d="M794.5 477.5L794.5 499.5" stroke="#000" stroke-width="1.9" fill="none"/>
<path d="M788.7 489.3L794.5 499.5L800.3 489.3" fill="none" stroke="#000" stroke-width="1.9" stroke-linecap="round" stroke-linejoin="miter"/>
<path d="M867 607.5L849 607.5" stroke="#000" stroke-width="1.9" fill="none"/>
<path d="M859.2 601.7L849 607.5L859.2 613.3" fill="none" stroke="#000" stroke-width="1.9" stroke-linecap="round" stroke-linejoin="miter"/>
<path d="M846.5 717.5L790.5 717.5" stroke="#000" stroke-width="1.7" fill="none"/>
<path d="M800.7 711.7L790.5 717.5L800.7 723.3" fill="none" stroke="#000" stroke-width="1.7" stroke-linecap="round" stroke-linejoin="miter"/>
<path d="M773.5 731.5L802.5 731.5" stroke="#000" stroke-width="1.7" fill="none"/>
<path d="M792.3 737.3L802.5 731.5L792.3 725.7" fill="none" stroke="#000" stroke-width="1.7" stroke-linecap="round" stroke-linejoin="miter"/>
<path d="M689.5 713.5C675 712 670.5 727 682.5 735.5" stroke="#3e689f" stroke-width="5.6" fill="none" stroke-linejoin="round" stroke-linecap="round"/>
<path d="M678 733.5L686 742L691.5 733.5Z" stroke="#3e689f" stroke-width="1" fill="#3e689f" stroke-linejoin="round" stroke-linecap="round"/>
<path d="M423.5 765.5L390 770.5" stroke="#000" stroke-width="1.9" fill="none"/>
<path d="M400.2 762.4L390 770.5L402.1 775.2" fill="none" stroke="#000" stroke-width="1.9" stroke-linecap="round" stroke-linejoin="miter"/>
<path d="M425 795.5L385 816.5" stroke="#000" stroke-width="1.9" fill="none"/>
<path d="M392 805.5L385 816.5L398 817" fill="none" stroke="#000" stroke-width="1.9" stroke-linecap="round" stroke-linejoin="miter"/>
<path d="M310 763.5L291.5 763.5" stroke="#000" stroke-width="1.9" fill="none"/>
<path d="M300.5 758.3L291.5 763.5L300.5 768.7" fill="none" stroke="#000" stroke-width="1.9" stroke-linecap="round" stroke-linejoin="miter"/>
<path d="M307.5 844L307.5 871.5" stroke="#000" stroke-width="1.9" fill="none"/>
<path d="M301.7 861.3L307.5 871.5L313.3 861.3" fill="none" stroke="#000" stroke-width="1.9" stroke-linecap="round" stroke-linejoin="miter"/>
<path d="M630 789.5L612.5 779" stroke="#000" stroke-width="1.9" fill="none"/>
<path d="M624.2 779.2L612.5 779L618.2 789.2" fill="none" stroke="#000" stroke-width="1.9" stroke-linecap="round" stroke-linejoin="miter"/>
<path d="M775.5 802.5L759 805" stroke="#000" stroke-width="1.9" fill="none"/>
<path d="M768.2 797.7L759 805L769.9 809.2" fill="none" stroke="#000" stroke-width="1.9" stroke-linecap="round" stroke-linejoin="miter"/>
<path d="M501.5 844C501.5 837 501.5 835 504.5 835L569.5 835C571.5 835 572.5 833 572.5 827.5C572.5 833 573.5 835 575.5 835L637.5 835C640.5 835 640.5 837 640.5 844" stroke="#000" stroke-width="1.4" fill="none" stroke-linejoin="round"/>
<path d="M499.5 857.5L499.5 875.5" stroke="#000" stroke-width="1.9" fill="none"/>
<path d="M493.7 865.3L499.5 875.5L505.3 865.3" fill="none" stroke="#000" stroke-width="1.9" stroke-linecap="round" stroke-linejoin="miter"/>
<path d="M486.5 930.5L486.5 953.5" stroke="#000" stroke-width="1.9" fill="none"/>
<path d="M480.7 943.3L486.5 953.5L492.3 943.3" fill="none" stroke="#000" stroke-width="1.9" stroke-linecap="round" stroke-linejoin="miter"/>
<path d="M847.5 903L847.5 920.5" stroke="#000" stroke-width="1.9" fill="none"/>
<path d="M841.7 910.3L847.5 920.5L853.3 910.3" fill="none" stroke="#000" stroke-width="1.9" stroke-linecap="round" stroke-linejoin="miter"/>
<path d="M79 1008.5C79 990.5 79 988.5 84 988.5L168.5 988.5C172.5 988.5 173.5 986.5 173.5 968.5C173.5 986.5 174.5 988.5 178.5 988.5L263.5 988.5C268.5 988.5 268.5 990.5 268.5 1008.5" stroke="#000" stroke-width="1.6" fill="none" stroke-linejoin="round"/>
<path d="M279.5 1017.5L255 1017.5" stroke="#000" stroke-width="1.9" fill="none"/>
<path d="M264 1012.3L255 1017.5L264 1022.7" fill="none" stroke="#000" stroke-width="1.9" stroke-linecap="round" stroke-linejoin="miter"/>
<path d="M235 1038.5L235 1053.5" stroke="#000" stroke-width="1.9" fill="none"/>
<path d="M229.8 1044.5L235 1053.5L240.2 1044.5" fill="none" stroke="#000" stroke-width="1.9" stroke-linecap="round" stroke-linejoin="miter"/>
<path d="M258.5 1088.5L258.5 1103.5" stroke="#000" stroke-width="1.9" fill="none"/>
<path d="M253.3 1094.5L258.5 1103.5L263.7 1094.5" fill="none" stroke="#000" stroke-width="1.9" stroke-linecap="round" stroke-linejoin="miter"/>
<path d="M258.5 1132L258.5 1148.5" stroke="#000" stroke-width="1.9" fill="none"/>
<path d="M253.3 1139.5L258.5 1148.5L263.7 1139.5" fill="none" stroke="#000" stroke-width="1.9" stroke-linecap="round" stroke-linejoin="miter"/>
<path d="M78.5 1027L61 1039.5" stroke="#000" stroke-width="1.9" fill="none"/>
<path d="M65.3 1030L61 1039.5L71.3 1038.5" fill="none" stroke="#000" stroke-width="1.9" stroke-linecap="round" stroke-linejoin="miter"/>
<path d="M93.5 1027L105 1040.5" stroke="#000" stroke-width="1.9" fill="none"/>
<path d="M95.2 1037L105 1040.5L103.1 1030.3" fill="none" stroke="#000" stroke-width="1.9" stroke-linecap="round" stroke-linejoin="miter"/>
<path d="M83.5 1028.5L83.5 1173" stroke="#000" stroke-width="1" fill="none"/>
<path d="M16.5 1064.5L155 1064.5" stroke="#000" stroke-width="1" fill="none"/>
<path d="M475 1010.5C523 1016 523 1043 483.5 1049.5" stroke="#000" stroke-width="1.9" fill="none" stroke-linejoin="round" stroke-linecap="round"/>
<path d="M486.4 1006.7L475 1010.5L484 1018.4" fill="none" stroke="#000" stroke-width="1.9" stroke-linecap="round" stroke-linejoin="miter"/>
<path d="M492.5 1041.6L483.5 1049.5L494.9 1053.3" fill="none" stroke="#000" stroke-width="1.9" stroke-linecap="round" stroke-linejoin="miter"/>
<path d="M608.5 1022L517.5 1022" stroke="#000" stroke-width="1.9" fill="none"/>
<path d="M528.8 1015.5L517.5 1022L528.8 1028.5" fill="none" stroke="#000" stroke-width="1.9" stroke-linecap="round" stroke-linejoin="miter"/>
<path d="M785 1066.5L741 1071.5" stroke="#000" stroke-width="1.9" fill="none"/>
<path d="M751.5 1063.8L741 1071.5L752.9 1076.6" fill="none" stroke="#000" stroke-width="1.9" stroke-linecap="round" stroke-linejoin="miter"/>
<path d="M788.5 1082L741 1095.5" stroke="#000" stroke-width="1.9" fill="none"/>
<path d="M750.1 1086.2L741 1095.5L753.6 1098.6" fill="none" stroke="#000" stroke-width="1.9" stroke-linecap="round" stroke-linejoin="miter"/>
<path d="M788 1088L741 1120.5" stroke="#000" stroke-width="1.9" fill="none"/>
<path d="M746.6 1108.8L741 1120.5L754 1119.4" fill="none" stroke="#000" stroke-width="1.9" stroke-linecap="round" stroke-linejoin="miter"/>
<path d="M635 1072L608.5 1072" stroke="#000" stroke-width="1.9" fill="none"/>
<path d="M618.7 1066.2L608.5 1072L618.7 1077.8" fill="none" stroke="#000" stroke-width="1.9" stroke-linecap="round" stroke-linejoin="miter"/>
<path d="M634 1096L607.5 1096" stroke="#000" stroke-width="1.9" fill="none"/>
<path d="M617.7 1090.2L607.5 1096L617.7 1101.8" fill="none" stroke="#000" stroke-width="1.9" stroke-linecap="round" stroke-linejoin="miter"/>
<path d="M683 1128L611.5 1128" stroke="#000" stroke-width="1.9" fill="none"/>
<path d="M621.7 1122.2L611.5 1128L621.7 1133.8" fill="none" stroke="#000" stroke-width="1.9" stroke-linecap="round" stroke-linejoin="miter"/>
<path d="M562.5 1092H556V1131.5H562.5M556 1111.5H548.5" stroke="#000" stroke-width="1.8" fill="none" stroke-linejoin="round" stroke-linecap="round"/>
<path d="M541.5 1111.5L520 1111.5" stroke="#000" stroke-width="1.9" fill="none"/>
<path d="M530.2 1105.7L520 1111.5L530.2 1117.3" fill="none" stroke="#000" stroke-width="1.9" stroke-linecap="round" stroke-linejoin="miter"/>
<path d="M871.5 1141.5L825 1145.5" stroke="#000" stroke-width="1.9" fill="none"/>
<path d="M835.7 1138.1L825 1145.5L836.8 1151" fill="none" stroke="#000" stroke-width="1.9" stroke-linecap="round" stroke-linejoin="miter"/>
<path d="M871.5 1155L827 1167.5" stroke="#000" stroke-width="1.9" fill="none"/>
<path d="M836.1 1158.2L827 1167.5L839.6 1170.7" fill="none" stroke="#000" stroke-width="1.9" stroke-linecap="round" stroke-linejoin="miter"/>
<path d="M780 1171L760 1171" stroke="#000" stroke-width="1.9" fill="none"/>
<path d="M767.9 1166.5L760 1171L767.9 1175.5" fill="none" stroke="#000" stroke-width="1.9" stroke-linecap="round" stroke-linejoin="miter"/>
<path d="M889 1171.5L872.5 1191.5" stroke="#000" stroke-width="1.9" fill="none"/>
<path d="M874.7 1178.7L872.5 1191.5L884.7 1186.9" fill="none" stroke="#000" stroke-width="1.9" stroke-linecap="round" stroke-linejoin="miter"/>
<path d="M416.5 1200L385 1200" stroke="#000" stroke-width="1.9" fill="none"/>
<path d="M396.3 1193.5L385 1200L396.3 1206.5" fill="none" stroke="#000" stroke-width="1.9" stroke-linecap="round" stroke-linejoin="miter"/>
<path d="M220 1255L220 1271.5" stroke="#000" stroke-width="1.9" fill="none"/>
<path d="M214.2 1261.3L220 1271.5L225.8 1261.3" fill="none" stroke="#000" stroke-width="1.9" stroke-linecap="round" stroke-linejoin="miter"/>
<path d="M220 1290L220 1305.5" stroke="#000" stroke-width="1.9" fill="none"/>
<path d="M214.2 1295.3L220 1305.5L225.8 1295.3" fill="none" stroke="#000" stroke-width="1.9" stroke-linecap="round" stroke-linejoin="miter"/>
<path d="M346.5 1262.5C346.5 1252 346.5 1250 351.5 1250L471.5 1250C475.5 1250 476.5 1248 476.5 1236.5C476.5 1248 477.5 1250 481.5 1250L601.5 1250C606.5 1250 606.5 1252 606.5 1262.5" stroke="#000" stroke-width="1.6" fill="none" stroke-linejoin="round"/>
<path d="M414.5 1269L414.5 1345" stroke="#000" stroke-width="1" fill="none"/>
<path d="M537.5 1269L537.5 1345" stroke="#000" stroke-width="1" fill="none"/>
<path d="M291.5 1288.5L660 1288.5" stroke="#000" stroke-width="1" fill="none"/>
<path d="M291.5 1308.5L660 1308.5" stroke="#000" stroke-width="1" fill="none"/>
<path d="M291.5 1327.8L414 1327.8" stroke="#000" stroke-width="1" fill="none"/>
<path d="M537.5 1327.8L660 1327.8" stroke="#000" stroke-width="1" fill="none"/>
<path d="M412 1326.5L535 1326.5" stroke="#000" stroke-width="1" fill="none"/>
</svg>
<div class="t" style="top:5.4px;font-size:11px;line-height:14px;right:845px;transform:scaleX(1.017);transform-origin:right center;">المواد الكيميائية الموجودة فى</div>
<div class="t" style="top:22.9px;font-size:11px;line-height:14px;right:845px;transform:scaleX(0.970);transform-origin:right center;">الطعام</div>
<div class="t" style="top:28.9px;font-size:15px;line-height:20px;color:#ff0000;left:418px;transform:translateX(-50%) scaleX(1.100);">4</div>
<div class="t" style="top:56.4px;font-size:23px;line-height:30px;color:#ff0000;right:493px;transform:scaleX(0.863);transform-origin:right center;">الديدان المفلطحة</div>
<div class="t" style="top:42.9px;font-size:12px;line-height:16px;right:77px;transform:scaleX(1.007);transform-origin:right center;">الديدان متنوعه فى احجامها واشكالها</div>
<div class="t" style="top:98.4px;font-size:12px;line-height:16px;right:65px;transform:scaleX(1.005);transform-origin:right center;">بعض الديدان تعيش حرة وبعضها متطفل</div>
<div class="t" style="top:160.4px;font-size:11px;line-height:14px;left:304px;transform:translateX(-50%) scaleX(0.970);">اندوديرم</div>
<div class="t" style="top:199.4px;font-size:11px;line-height:14px;left:304px;transform:translateX(-50%) scaleX(0.970);">ميزوديرم</div>
<div class="t" style="top:238.4px;font-size:11px;line-height:14px;left:304px;transform:translateX(-50%) scaleX(0.970);">اكتوديرم</div>
<div class="t" style="top:178.4px;font-size:11px;line-height:14px;left:491px;transform:translateX(-50%) scaleX(0.970);">اول شعبة ظهر</div>
<div class="t" style="top:197.9px;font-size:11px;line-height:14px;left:491px;transform:translateX(-50%) scaleX(0.970);">فيها 3 طبقات</div>
<div class="t" style="top:178.9px;font-size:11px;line-height:14px;left:669.5px;transform:translateX(-50%) scaleX(0.970);">اول شعبه ظهر فيها</div>
<div class="t" style="top:195px;font-size:11px;line-height:14px;left:669.5px;transform:translateX(-50%) scaleX(0.970);">تماثل ثنائى الجانب</div>
<div class="t" style="top:178.9px;font-size:11px;line-height:14px;left:854px;transform:translateX(-50%) scaleX(0.970);">اول شعبه ظهر</div>
<div class="t" style="top:195px;font-size:11px;line-height:14px;left:854px;transform:translateX(-50%) scaleX(0.970);">فيها الترتيس</div>
<div class="t" style="top:264.4px;font-size:11px;line-height:14px;right:295px;transform:scaleX(0.954);transform-origin:right center;">عللى:- تصنف الديدان الى 3 شعب</div>
<div class="t" style="top:284.4px;font-size:11px;line-height:14px;right:562px;transform:scaleX(0.980);transform-origin:right center;">لانها تختلف فى اشكالها وتركيب أجسامها</div>
<div class="t" style="top:298.4px;font-size:15px;line-height:20px;left:894px;transform:translateX(-50%) scaleX(0.970);">بنية الجسم</div>
<div class="t" style="top:307.9px;font-size:11px;line-height:14px;right:219px;transform:scaleX(0.919);transform-origin:right center;">رقيقة جداً</div>
<div class="t" style="top:331.9px;font-size:11px;line-height:14px;right:218.5px;transform:scaleX(0.929);transform-origin:right center;">جسمها لين</div>
<div class="t" style="top:354.4px;font-size:11px;line-height:14px;right:210.5px;transform:scaleX(0.982);transform-origin:right center;">لا سيلوميه</div>
<div class="t" style="top:354.9px;font-size:11px;line-height:14px;right:291px;transform:scaleX(0.955);transform-origin:right center;">عللى : ليس لديها سيلوم مبطن بالميزوديرم</div>
<div class="t" style="top:385.4px;font-size:11px;line-height:14px;right:192.5px;transform:scaleX(0.989);transform-origin:right center;">لديها تجويف وحيد هضمي مبطن بالاندوديريم</div>
<div class="t" style="top:405.4px;font-size:11px;line-height:14px;right:95.5px;transform:scaleX(0.961);transform-origin:right center;">لها تماثل ثنائى الجانب</div>
<div class="t" style="top:405.4px;font-size:11px;line-height:14px;right:43px;transform:scaleX(1.010);transform-origin:right center;">لها رأس</div>
<div class="t" style="top:361.4px;font-size:11px;line-height:14px;right:659.4px;transform:scaleX(1.040);transform-origin:right center;">أ- التغذية</div>
<div class="t" style="top:437.9px;font-size:11px;line-height:14px;left:129px;transform:translateX(-50%) scaleX(0.970);">متطفله</div>
<div class="t" style="top:459.9px;font-size:11px;line-height:14px;right:889px;transform:scaleX(0.971);transform-origin:right center;">سوائل</div>
<div class="t" style="top:479.4px;font-size:11px;line-height:14px;right:889.5px;transform:scaleX(0.881);transform-origin:right center;">الجسم</div>
<div class="t" style="top:473.4px;font-size:11px;line-height:14px;right:816.5px;transform:scaleX(0.895);transform-origin:right center;">الدم</div>
<div class="t" style="top:483.4px;font-size:11px;line-height:14px;right:839.5px;transform:scaleX(0.922);transform-origin:right center;">قطع مــن</div>
<div class="t" style="top:502.4px;font-size:11px;line-height:14px;right:839.5px;transform:scaleX(0.889);transform-origin:right center;">خلايــــــــا</div>
<div class="t" style="top:519.9px;font-size:11px;line-height:14px;right:839.5px;transform:scaleX(0.936);transform-origin:right center;">جســــــم</div>
<div class="t" style="top:536.4px;font-size:11px;line-height:14px;right:839.5px;transform:scaleX(0.970);transform-origin:right center;">العائل</div>
<div class="t" style="top:434.4px;font-size:11px;line-height:14px;right:615.5px;transform:scaleX(0.961);transform-origin:right center;">حره المعيشة</div>
<div class="t" style="top:449.4px;font-size:11px;line-height:14px;right:615.5px;transform:scaleX(1.027);transform-origin:right center;">مثل البلاناريا</div>
<div class="t" style="top:490.9px;font-size:11px;line-height:14px;right:558px;transform:scaleX(0.957);transform-origin:right center;">آكلات لحوم</div>
<div class="t" style="top:507.4px;font-size:11px;line-height:14px;right:558px;transform:scaleX(0.941);transform-origin:right center;">تتغــــــذى علـــــى</div>
<div class="t" style="top:522.4px;font-size:11px;line-height:14px;right:558px;transform:scaleX(0.946);transform-origin:right center;">الحيوانــات المائيـة</div>
<div class="t" style="top:537.4px;font-size:11px;line-height:14px;right:558px;transform:scaleX(0.970);transform-origin:right center;">الدقيقة</div>
<div class="t" style="top:488.4px;font-size:11px;line-height:14px;right:663.5px;transform:scaleX(0.933);transform-origin:right center;">مترممات</div>
<div class="t" style="top:503.4px;font-size:11px;line-height:14px;right:663.5px;transform:scaleX(0.935);transform-origin:right center;">تتغــــــذى علـــــى</div>
<div class="t" style="top:519.4px;font-size:11px;line-height:14px;right:663.5px;transform:scaleX(0.947);transform-origin:right center;">حيوانــــات ميتــــة</div>
<div class="t" style="top:534.4px;font-size:11px;line-height:14px;right:663.5px;transform:scaleX(0.970);transform-origin:right center;">حديثاً</div>
<div class="t" style="top:573.9px;font-size:11px;line-height:14px;color:#ff0000;left:126.5px;transform:translateX(-50%) scaleX(0.970);">علل</div>
<div class="t" style="top:612.4px;font-size:11px;line-height:14px;right:849.5px;transform:scaleX(0.918);transform-origin:right center;">لا تحتـــــــــــــاج</div>
<div class="t" style="top:628.4px;font-size:11px;line-height:14px;right:849.5px;transform:scaleX(0.932);transform-origin:right center;">الديـــــــــــــدان</div>
<div class="t" style="top:643.4px;font-size:11px;line-height:14px;right:849.5px;transform:scaleX(0.918);transform-origin:right center;">الطفيليـــة الـــى</div>
<div class="t" style="top:659.4px;font-size:11px;line-height:14px;right:849.5px;transform:scaleX(0.935);transform-origin:right center;">جهـــاز هضـــمى</div>
<div class="t" style="top:674.4px;font-size:11px;line-height:14px;right:849.5px;transform:scaleX(0.914);transform-origin:right center;">معقد التركيب</div>
<div class="t" style="top:719.9px;font-size:11px;line-height:14px;right:849.5px;transform:scaleX(0.949);transform-origin:right center;">لانهــــا تتغــــذي</div>
<div class="t" style="top:735.4px;font-size:11px;line-height:14px;right:849.5px;transform:scaleX(0.930);transform-origin:right center;">علـــــى مـــــواد</div>
<div class="t" style="top:750.4px;font-size:11px;line-height:14px;right:849.5px;transform:scaleX(0.918);transform-origin:right center;">غذائيـــــــــــــــة</div>
<div class="t" style="top:765.9px;font-size:11px;line-height:14px;right:849.5px;transform:scaleX(0.924);transform-origin:right center;">مهضـــومه مـــن</div>
<div class="t" style="top:781.9px;font-size:11px;line-height:14px;right:849.5px;transform:scaleX(0.889);transform-origin:right center;">جسم العائل</div>
<div class="t" style="top:576.4px;font-size:11px;line-height:14px;right:518px;transform:scaleX(0.981);transform-origin:right center;">لديها تجويف وعائي معدي ذو فتحه واحده مثل الاسعات</div>
<div class="t" style="top:608.9px;font-size:11px;line-height:14px;right:519.5px;transform:scaleX(0.954);transform-origin:right center;">يوجد البلعوم</div>
<div class="t" style="top:608.9px;font-size:11px;line-height:14px;right:594px;transform:scaleX(0.945);transform-origin:right center;">انبوب عضلي قريب من الفم</div>
<div class="t" style="top:640.9px;font-size:11px;line-height:14px;right:518px;transform:scaleX(1.013);transform-origin:right center;">*الهضم خارجي</div>
<div class="t" style="top:640.9px;font-size:11px;line-height:14px;right:611px;transform:scaleX(0.942);transform-origin:right center;">يتم فى الجويف الوعائي المعدي</div>
<div class="t" style="top:672.4px;font-size:12.5px;line-height:16px;right:587px;transform:scaleX(0.820);transform-origin:right center;">الفم</div>
<div class="t" style="top:672.4px;font-size:12.5px;line-height:16px;right:630px;transform:scaleX(0.988);transform-origin:right center;">البلعوم</div>
<div class="t" style="top:672.4px;font-size:12.5px;line-height:16px;right:696px;transform:scaleX(0.994);transform-origin:right center;">تجويف وعائي معدي</div>
<div class="t" style="top:692.4px;font-size:12.5px;line-height:16px;right:588px;transform:scaleX(0.921);transform-origin:right center;">ينتشر الى انسجه الجسم</div>
<div class="t" style="top:678.4px;font-size:11px;line-height:14px;color:#ff0000;left:466px;transform:translateX(-50%) scaleX(0.970);">رحلة الغذاء</div>
<div class="t" style="top:433.4px;font-size:11px;line-height:14px;left:615.5px;transform:translateX(-50%) scaleX(0.970);">ليس لها</div>
<div class="t" style="top:421.4px;font-size:11px;line-height:14px;right:444.5px;transform:scaleX(1.007);transform-origin:right center;">اوعية دموية</div>
<div class="t" style="top:449.4px;font-size:11px;line-height:14px;right:450px;transform:scaleX(0.853);transform-origin:right center;">دم</div>
<div class="t" style="top:474.9px;font-size:11px;line-height:14px;right:441.9px;transform:scaleX(0.820);transform-origin:right center;">قلب</div>
<div class="t" style="top:497.4px;font-size:11px;line-height:14px;right:368px;transform:scaleX(0.952);transform-origin:right center;">اعضاء تنفس</div>
<div class="t" style="top:487.4px;font-size:11px;line-height:14px;right:318.5px;transform:scaleX(0.870);transform-origin:right center;">خياشيم</div>
<div class="t" style="top:444.4px;font-size:11px;line-height:14px;right:136px;transform:scaleX(1.000);transform-origin:right center;">2- التنفس والدوران والاخراج</div>
<div class="t" style="top:525.9px;font-size:11px;line-height:14px;right:158px;transform:scaleX(1.033);transform-origin:right center;">لا تحتاج الى جهاز</div>
<div class="t" style="top:541.9px;font-size:11px;line-height:14px;right:158px;transform:scaleX(0.980);transform-origin:right center;">دوري(علل)</div>
<div class="t" style="top:571.9px;font-size:11px;line-height:14px;right:158px;transform:scaleX(0.986);transform-origin:right center;">لان اجسامها رقيقة</div>
<div class="t" style="top:596.9px;font-size:11px;line-height:14px;right:158px;transform:scaleX(0.980);transform-origin:right center;">لتنقل O2 والغذاء الى</div>
<div class="t" style="top:613.4px;font-size:11px;line-height:14px;right:158px;transform:scaleX(1.032);transform-origin:right center;">الخلايا ونقل  CO2</div>
<div class="t" style="top:629.9px;font-size:11px;line-height:14px;right:158px;transform:scaleX(0.977);transform-origin:right center;">والفضلات الى الخارج</div>
<div class="t" style="top:576.9px;font-size:11px;line-height:14px;left:908.5px;transform:translateX(-50%) scaleX(0.970);">تعتمـــد</div>
<div class="t" style="top:591.9px;font-size:11px;line-height:14px;left:908.5px;transform:translateX(-50%) scaleX(0.970);">علـــى</div>
<div class="t" style="top:605.9px;font-size:11px;line-height:14px;left:908.5px;transform:translateX(-50%) scaleX(0.970);">الانتشار</div>
<div class="t" style="top:528.9px;font-size:11px;line-height:14px;left:604px;transform:translateX(-50%) scaleX(0.970);">لديها خلايا لهبية</div>
<div class="t" style="top:584.4px;font-size:11px;line-height:14px;right:349.5px;transform:scaleX(0.923);transform-origin:right center;">خلايـــــا متخصصــــة</div>
<div class="t" style="top:600.9px;font-size:11px;line-height:14px;right:349.5px;transform:scaleX(0.954);transform-origin:right center;">ترشح المــــاء الزائد</div>
<div class="t" style="top:615.9px;font-size:11px;line-height:14px;right:349.5px;transform:scaleX(0.945);transform-origin:right center;">وتزيلــه مــن الجسم</div>
<div class="t" style="top:630.9px;font-size:11px;line-height:14px;right:349.5px;transform:scaleX(0.924);transform-origin:right center;">وتزيــــل الفضــــلات</div>
<div class="t" style="top:646.9px;font-size:11px;line-height:14px;right:349.5px;transform:scaleX(0.951);transform-origin:right center;">الأيضــــــية مثــــــل</div>
<div class="t" style="top:661.9px;font-size:11px;line-height:14px;right:349.9px;transform:scaleX(1.040);transform-origin:right center;">الامونيا واليوريا</div>
<div class="t" style="top:694.9px;font-size:11px;line-height:14px;right:62px;transform:scaleX(1.023);transform-origin:right center;">الخلايا اللهبية</div>
<div class="t" style="top:694.9px;font-size:11px;line-height:14px;right:143.5px;transform:scaleX(0.980);transform-origin:right center;">ترتبط ببعضها</div>
<div class="t" style="top:706.9px;font-size:11px;line-height:14px;right:190.5px;transform:scaleX(0.951);transform-origin:right center;">شبكه من الانابيب</div>
<div class="t" style="top:723.9px;font-size:11px;line-height:14px;right:50.5px;transform:scaleX(0.918);transform-origin:right center;">بواسطة ثقوب دقيقه فى الجلد</div>
<div class="t" style="top:723.9px;font-size:11px;line-height:14px;right:217px;transform:scaleX(0.962);transform-origin:right center;">تفرغ الى الخارج</div>
<div class="t" style="top:765.4px;font-size:11px;line-height:14px;color:#ff0000;left:467.5px;transform:translateX(-50%) scaleX(0.970);">ب الحركه</div>
<div class="t" style="top:755.4px;font-size:11px;line-height:14px;right:641.5px;transform:scaleX(0.921);transform-origin:right center;">الاهـــداب</div>
<div class="t" style="top:755.4px;font-size:11px;line-height:14px;right:701px;transform:scaleX(0.946);transform-origin:right center;">تســـاعد علـــى الانــزلاق</div>
<div class="t" style="top:772.9px;font-size:11px;line-height:14px;right:641.5px;transform:scaleX(0.986);transform-origin:right center;">خلال الماء وفوق البرك</div>
<div class="t" style="top:809.4px;font-size:11px;line-height:14px;right:626.5px;transform:scaleX(0.947);transform-origin:right center;">الخلايـــا العضـــلية تســـاعد علـــى الالتــواء</div>
<div class="t" style="top:826.9px;font-size:11px;line-height:14px;right:626.5px;transform:scaleX(0.952);transform-origin:right center;">والـــدوران لتتعامـــل بســـرعة مـــع البيئــه</div>
<div class="t" style="top:844.4px;font-size:11px;line-height:14px;right:626.5px;transform:scaleX(1.034);transform-origin:right center;">الخارجية</div>
<div class="t" style="top:879.9px;font-size:11px;line-height:14px;right:627px;transform:scaleX(0.993);transform-origin:right center;">يتم ضبطها عن طريق الجهاز العصبي</div>
<div class="t" style="top:747.9px;font-size:11px;line-height:14px;right:383.5px;transform:scaleX(0.915);transform-origin:right center;">لهـــــا تراكيــــب</div>
<div class="t" style="top:765.9px;font-size:11px;line-height:14px;right:383.5px;transform:scaleX(1.040);transform-origin:right center;">معقدة اكثر من</div>
<div class="t" style="top:783.9px;font-size:11px;line-height:14px;right:383.5px;transform:scaleX(0.940);transform-origin:right center;">اللأســــــــــعات</div>
<div class="t" style="top:800.9px;font-size:11px;line-height:14px;right:383.5px;transform:scaleX(0.916);transform-origin:right center;">والاســـــــــــفنج</div>
<div class="t" style="top:790.9px;font-size:11px;line-height:14px;left:691px;transform:translateX(-50%) scaleX(0.970);">P- الاستجابه</div>
<div class="t" style="top:783.9px;font-size:11px;line-height:14px;left:857.5px;transform:translateX(-50%) scaleX(0.970);">3-الاستجابه</div>
<div class="t" style="top:799.9px;font-size:11px;line-height:14px;left:857.5px;transform:translateX(-50%) scaleX(0.970);">والحركه والتكاثر</div>
<div class="t" style="top:845.4px;font-size:11px;line-height:14px;left:500.5px;transform:translateX(-50%) scaleX(0.970);">طفيلية</div>
<div class="t" style="top:887.4px;font-size:11px;line-height:14px;right:438px;transform:scaleX(0.952);transform-origin:right center;">علـــل الديــدان المفلطحـــه</div>
<div class="t" style="top:904.9px;font-size:11px;line-height:14px;right:438px;transform:scaleX(0.966);transform-origin:right center;">الطفيليه جهاز عصبى بسيط</div>
<div class="t" style="top:954.4px;font-size:11px;line-height:14px;right:440.5px;transform:scaleX(0.989);transform-origin:right center;">لأنها قليله التفاعل مع البيئه</div>
<div class="t" style="top:972.9px;font-size:11px;line-height:14px;left:492.5px;transform:translateX(-50%) scaleX(0.970);">الخارجيه</div>
<div class="t" style="top:856.4px;font-size:11px;line-height:14px;right:59px;transform:scaleX(0.945);transform-origin:right center;">علل : تحتاج الديدان المفلطحه حره</div>
<div class="t" style="top:873.9px;font-size:11px;line-height:14px;right:75px;transform:scaleX(0.958);transform-origin:right center;">المعيشة جهاز عصبى معقد</div>
<div class="t" style="top:922.9px;font-size:11px;line-height:14px;right:80.5px;transform:scaleX(0.995);transform-origin:right center;">1- لتحديد موضع الطعام</div>
<div class="t" style="top:938.4px;font-size:11px;line-height:14px;right:80.5px;transform:scaleX(0.942);transform-origin:right center;">2- تكتشــــــف امـــــاكن</div>
<div class="t" style="top:954.4px;font-size:11px;line-height:14px;right:80.5px;transform:scaleX(1.032);transform-origin:right center;">الاحتباء المظلمه اسفل</div>
<div class="t" style="top:968.9px;font-size:11px;line-height:14px;right:82.6px;transform:scaleX(1.040);transform-origin:right center;">الاحجار بالنهار</div>
<div class="t" style="top:843.9px;font-size:11px;line-height:14px;right:270.5px;transform:scaleX(0.934);transform-origin:right center;">حرة المعييشه</div>
<div class="t" style="top:861.4px;font-size:11px;line-height:14px;right:233.5px;transform:scaleX(0.934);transform-origin:right center;">1- عقد عصبية مجموعــــــــة من</div>
<div class="t" style="top:877.9px;font-size:11px;line-height:14px;right:233.5px;transform:scaleX(0.942);transform-origin:right center;">الخلايــــــا العصـــــبية تـــــتحكم</div>
<div class="t" style="top:894.9px;font-size:11px;line-height:14px;right:233.5px;transform:scaleX(1.024);transform-origin:right center;">بالجهاز العصبى</div>
<div class="t" style="top:914.9px;font-size:11px;line-height:14px;right:229px;transform:scaleX(0.951);transform-origin:right center;">2- حــــبلان عصــــبيان يمتـــدان</div>
<div class="t" style="top:933.4px;font-size:11px;line-height:14px;right:229px;transform:scaleX(0.930);transform-origin:right center;">بطول جانبى الجسم</div>
<div class="t" style="top:949.9px;font-size:11px;line-height:14px;right:227px;transform:scaleX(0.954);transform-origin:right center;">3- لهـــا بقـــع عبنيـــة  مجموعــة</div>
<div class="t" style="top:968.4px;font-size:11px;line-height:14px;right:227px;transform:scaleX(0.936);transform-origin:right center;">مـــن الخلايـــا يمكنهـــا الكشــف</div>
<div class="t" style="top:985.4px;font-size:11px;line-height:14px;right:227px;transform:scaleX(1.001);transform-origin:right center;">عن تغيرات الضوء فى البيئة</div>
<div class="t" style="top:1002.4px;font-size:11px;line-height:14px;right:223px;transform:scaleX(0.985);transform-origin:right center;">4- خلايا متخصصة مبعثرة فى الجسم</div>
<div class="t" style="top:1019.9px;font-size:11px;line-height:14px;right:224px;transform:scaleX(0.916);transform-origin:right center;">تكشف الموثرات مثل</div>
<div class="t" style="top:947.9px;font-size:11px;line-height:14px;color:#ff0000;left:271px;transform:translateX(-50%) scaleX(0.970);">جـ التكاثر</div>
<div class="t" style="top:1009.4px;font-size:11px;line-height:14px;right:687px;transform:scaleX(0.859);transform-origin:right center;">جنسي</div>
<div class="t" style="top:1009.4px;font-size:11px;line-height:14px;right:737.5px;transform:scaleX(1.028);transform-origin:right center;">خنات</div>
<div class="t" style="top:1023.4px;font-size:11px;line-height:14px;right:687px;transform:scaleX(0.938);transform-origin:right center;">فـــرد لـــه اعضـــاء تناســلية</div>
<div class="t" style="top:1038.9px;font-size:11px;line-height:14px;right:687px;transform:scaleX(1.024);transform-origin:right center;">انثويه وذكرية</div>
<div class="t" style="top:1053.9px;font-size:11px;line-height:14px;right:718.5px;transform:scaleX(0.945);transform-origin:right center;">ترتبط دودتتان</div>
<div class="t" style="top:1069.9px;font-size:11px;line-height:14px;right:687px;transform:scaleX(0.940);transform-origin:right center;">تتبــــــــادلان الحيوانــــــــات</div>
<div class="t" style="top:1084.9px;font-size:11px;line-height:14px;right:687px;transform:scaleX(0.976);transform-origin:right center;">المنوية</div>
<div class="t" style="top:1100.9px;font-size:11px;line-height:14px;right:687px;transform:scaleX(0.942);transform-origin:right center;">يوضــــــع البــــــيض فــــــى</div>
<div class="t" style="top:1116.9px;font-size:11px;line-height:14px;right:687px;transform:scaleX(0.936);transform-origin:right center;">مجموعــــات علــــى شـــكل</div>
<div class="t" style="top:1130.9px;font-size:11px;line-height:14px;right:687px;transform:scaleX(1.015);transform-origin:right center;">عناقيد</div>
<div class="t" style="top:1145.9px;font-size:11px;line-height:14px;right:687px;transform:scaleX(0.992);transform-origin:right center;">يفقس البيض بعد اسبوع</div>
<div class="t" style="top:1014.9px;font-size:11px;line-height:14px;right:887px;transform:scaleX(0.950);transform-origin:right center;">لا جنسى</div>
<div class="t" style="top:1039.9px;font-size:11px;line-height:14px;left:50.5px;transform:translateX(-50%) scaleX(0.970);">التقطيع</div>
<div class="t" style="top:1039.9px;font-size:11px;line-height:14px;left:120px;transform:translateX(-50%) scaleX(0.970);">الانشطار</div>
<div class="t" style="top:1064.9px;font-size:11px;line-height:14px;left:50.5px;transform:translateX(-50%) scaleX(0.970);">تتقطع</div>
<div class="t" style="top:1079.9px;font-size:11px;line-height:14px;left:50.5px;transform:translateX(-50%) scaleX(0.970);">الدودة الى</div>
<div class="t" style="top:1095.9px;font-size:11px;line-height:14px;left:50.5px;transform:translateX(-50%) scaleX(0.970);">قطع وتنمو</div>
<div class="t" style="top:1110.9px;font-size:11px;line-height:14px;left:50.5px;transform:translateX(-50%) scaleX(0.970);">كل قطعة</div>
<div class="t" style="top:1125.9px;font-size:11px;line-height:14px;left:50.5px;transform:translateX(-50%) scaleX(0.970);">الى دودة</div>
<div class="t" style="top:1142.9px;font-size:11px;line-height:14px;left:50.5px;transform:translateX(-50%) scaleX(0.970);">جديدة</div>
<div class="t" style="top:1064.9px;font-size:11px;line-height:14px;left:120px;transform:translateX(-50%) scaleX(0.970);">ينشطر</div>
<div class="t" style="top:1079.9px;font-size:11px;line-height:14px;left:120px;transform:translateX(-50%) scaleX(0.970);">الكائن الى</div>
<div class="t" style="top:1095.9px;font-size:11px;line-height:14px;left:120px;transform:translateX(-50%) scaleX(0.970);">نصفين</div>
<div class="t" style="top:1110.9px;font-size:11px;line-height:14px;left:120px;transform:translateX(-50%) scaleX(0.970);">وتنمو لكل</div>
<div class="t" style="top:1125.9px;font-size:11px;line-height:14px;left:120px;transform:translateX(-50%) scaleX(0.970);">نصف اجزاء</div>
<div class="t" style="top:1142.9px;font-size:11px;line-height:14px;left:120px;transform:translateX(-50%) scaleX(0.970);">جديدة</div>
<div class="t" style="top:1156.4px;font-size:11px;line-height:14px;left:120px;transform:translateX(-50%) scaleX(0.970);">ليصبح كاملاً</div>
<div class="t" style="top:1003.4px;font-size:11px;line-height:14px;right:521px;transform:scaleX(1.017);transform-origin:right center;">المواد الكيميائية الموجودة فى</div>
<div class="t" style="top:1019.9px;font-size:11px;line-height:14px;right:521px;transform:scaleX(0.841);transform-origin:right center;">الطعام</div>
<div class="t" style="top:1040.9px;font-size:11px;line-height:14px;right:513px;transform:scaleX(0.967);transform-origin:right center;">الاتجاه الذى يتدفق منه الماء</div>
<div class="t" style="top:1054.9px;font-size:11px;line-height:14px;left:858.5px;transform:translateX(-50%) scaleX(0.970);">بنية الديدان</div>
<div class="t" style="top:1071.9px;font-size:11px;line-height:14px;left:858.5px;transform:translateX(-50%) scaleX(0.970);">المفلطحه</div>
<div class="t" style="top:1065.4px;font-size:11px;line-height:14px;right:255.7px;transform:scaleX(1.040);transform-origin:right center;">تربلاريا ( الدواميات )</div>
<div class="t" style="top:1065.9px;font-size:11px;line-height:14px;right:383.5px;transform:scaleX(0.969);transform-origin:right center;">حرة المعيشه + المياه العذبه والبحار</div>
<div class="t" style="top:1088.4px;font-size:11px;line-height:14px;right:263px;transform:scaleX(0.994);transform-origin:right center;">التريماتودا (الورقيه)</div>
<div class="t" style="top:1088.4px;font-size:11px;line-height:14px;right:395.5px;transform:scaleX(0.870);transform-origin:right center;">متطفله</div>
<div class="t" style="top:1120.4px;font-size:11px;line-height:14px;right:263px;transform:scaleX(0.929);transform-origin:right center;">الشريطيه</div>
<div class="t" style="top:1120.4px;font-size:11px;line-height:14px;right:386px;transform:scaleX(0.900);transform-origin:right center;">متطفله</div>
<div class="t" style="top:1088.9px;font-size:11px;line-height:14px;right:479.5px;transform:scaleX(0.937);transform-origin:right center;">تعتمد على العائل</div>
<div class="t" style="top:1104.4px;font-size:11px;line-height:14px;right:479.5px;transform:scaleX(0.966);transform-origin:right center;">قواقع / كلاب</div>
<div class="t" style="top:1120.4px;font-size:11px;line-height:14px;right:479.5px;transform:scaleX(0.951);transform-origin:right center;">ماشيه/ البشر</div>
<div class="t" style="top:1156.4px;font-size:11px;line-height:14px;right:354px;transform:scaleX(1.026);transform-origin:right center;">مثال عليها :</div>
<div class="t" style="top:1143.4px;font-size:11px;line-height:14px;left:919.5px;transform:translateX(-50%) scaleX(0.970);">التريماتودا</div>
<div class="t" style="top:1136.9px;font-size:11px;line-height:14px;right:178.5px;transform:scaleX(0.907);transform-origin:right center;">ديدان متطفله مفلطحه</div>
<div class="t" style="top:1163.9px;font-size:11px;line-height:14px;right:180.5px;transform:scaleX(1.000);transform-origin:right center;">خارجيه</div>
<div class="t" style="top:1163.9px;font-size:11px;line-height:14px;right:232.5px;transform:scaleX(0.939);transform-origin:right center;">الجلد / الفم / الخياشيم</div>
<div class="t" style="top:1193.4px;font-size:11px;line-height:14px;right:42.5px;transform:scaleX(1.008);transform-origin:right center;">الاعضاء الداخليه دم / عضو داخلى</div>
<div class="t" style="top:1218.9px;font-size:11px;line-height:14px;left:906.5px;transform:translateX(-50%) scaleX(0.970);">علل :</div>
<div class="t" style="top:1210.9px;font-size:11px;line-height:14px;word-spacing:7.5px;right:119.5px;transform:scaleX(0.953);transform-origin:right center;">تصيب البلهارسيا المنسونيه الناس فى</div>
<div class="t" style="top:1228.4px;font-size:11px;line-height:14px;right:119.5px;transform:scaleX(0.956);transform-origin:right center;">المناطق الاسوائية</div>
<div class="t" style="top:1256.9px;font-size:11px;line-height:14px;right:52.5px;transform:scaleX(0.948);transform-origin:right center;">لانهـــا تفتقـــز الـــى انظمــة الصــرف الصحى فيقضــى النــاس</div>
<div class="t" style="top:1273.9px;font-size:11px;line-height:14px;right:52.5px;transform:scaleX(0.944);transform-origin:right center;">حــــاجتهم فــــى المجــــاري المائيـــة ويســـتخدمون فضـــلاتهم</div>
<div class="t" style="top:1291.9px;font-size:11px;line-height:14px;right:52.5px;transform:scaleX(0.975);transform-origin:right center;">كأسمده زراعية</div>
<div class="t" style="top:1179.9px;font-size:11px;line-height:14px;left:500.5px;transform:translateX(-50%) scaleX(0.970);">البلهارسيا المسنونيه</div>
<div class="t" style="top:1196.9px;font-size:11px;line-height:14px;left:500.5px;transform:translateX(-50%) scaleX(0.970);">او الشيستوسوما</div>
<div class="t" style="top:1188.4px;font-size:11px;line-height:14px;right:675.5px;transform:scaleX(0.987);transform-origin:right center;">تسبب مرض البلهارسيا</div>
<div class="t" style="top:1236.9px;font-size:11px;line-height:14px;right:748.5px;transform:scaleX(1.031);transform-origin:right center;">الاعراض</div>
<div class="t" style="top:1271.9px;font-size:11px;line-height:14px;right:748.5px;transform:scaleX(0.990);transform-origin:right center;">انسداد الاوعيه الدمويه فتنتفخ</div>
<div class="t" style="top:1309.9px;font-size:11px;line-height:14px;right:755.5px;transform:scaleX(0.937);transform-origin:right center;">تتخلــل الانســجه فـى الكبـد / الـرئتين</div>
<div class="t" style="top:1328.4px;font-size:11px;line-height:14px;right:755.5px;transform:scaleX(0.978);transform-origin:right center;">/ الطحال / الامعاء</div>
<div class="t" style="top:1269.9px;font-size:12px;line-height:16px;left:598.5px;transform:translateX(-50%) scaleX(0.970);">عائل اساسى</div>
<div class="t" style="top:1288.9px;font-size:12px;line-height:16px;left:598.5px;transform:translateX(-50%) scaleX(0.970);">تتكاثر جنسياً</div>
<div class="t" style="top:1308.9px;font-size:12px;line-height:16px;left:598.5px;transform:translateX(-50%) scaleX(0.970);">الانسان</div>
<div class="t" style="top:1328.9px;font-size:12px;line-height:16px;left:598.5px;transform:translateX(-50%) scaleX(0.970);">يرقه مهدبه</div>
<div class="t" style="top:1288.9px;font-size:12px;line-height:16px;left:476px;transform:translateX(-50%) scaleX(0.970);">نوع التكاثر</div>
<div class="t" style="top:1308.9px;font-size:12px;line-height:16px;left:476px;transform:translateX(-50%) scaleX(0.970);">مثال</div>
<div class="t" style="top:1325.4px;font-size:12px;line-height:16px;left:476px;transform:translateX(-50%) scaleX(0.970);">نوع اليرقه الناتجه</div>
<div class="t" style="top:1269.9px;font-size:12px;line-height:16px;left:352px;transform:translateX(-50%) scaleX(0.970);">عائل وسيط</div>
<div class="t" style="top:1288.9px;font-size:12px;line-height:16px;left:352px;transform:translateX(-50%) scaleX(0.970);">تتكاثر لاجنسياً</div>
<div class="t" style="top:1308.9px;font-size:12px;line-height:16px;left:352px;transform:translateX(-50%) scaleX(0.970);">القواقع</div>
<div class="t" style="top:1328.9px;font-size:12px;line-height:16px;left:352px;transform:translateX(-50%) scaleX(0.970);">برقه ذات ذيل طويل</div>
</div></body></html>
